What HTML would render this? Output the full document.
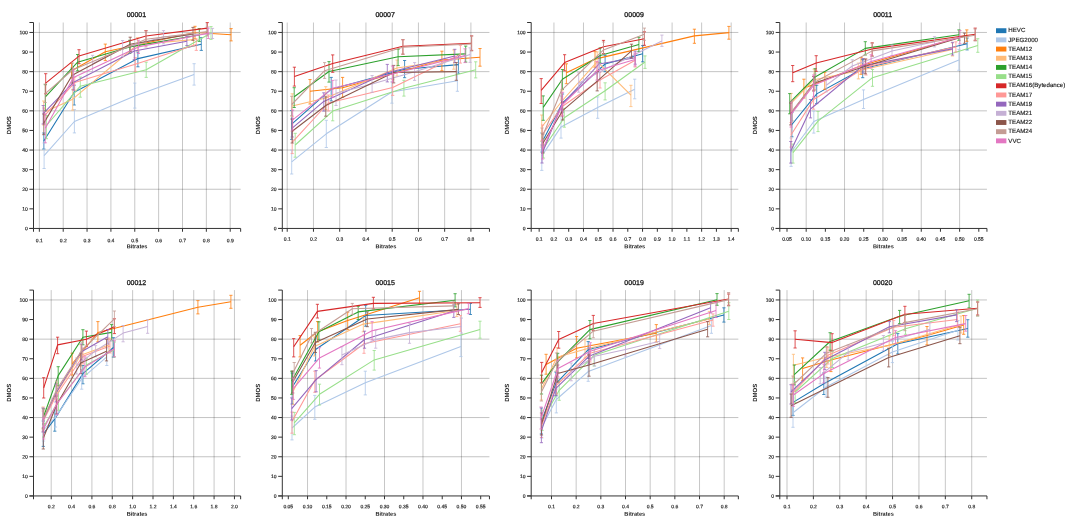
<!DOCTYPE html><html><head><title>DMOS vs Bitrates</title><meta charset="utf-8"><style>html,body{margin:0;padding:0;background:#fff;width:1080px;height:525px;overflow:hidden}</style></head><body><svg width="1080" height="525" viewBox="0 0 1080 525" style="position:absolute;left:0;top:0;will-change:transform;text-rendering:geometricPrecision;font-family:'Liberation Sans',sans-serif">
<rect width="1080" height="525" fill="#fff"/>
<line x1="39.35" x2="39.35" y1="22.50" y2="228.45" stroke="#000" stroke-opacity="0.23" stroke-width="0.95"/><line x1="63.21" x2="63.21" y1="22.50" y2="228.45" stroke="#000" stroke-opacity="0.23" stroke-width="0.95"/><line x1="87.06" x2="87.06" y1="22.50" y2="228.45" stroke="#000" stroke-opacity="0.23" stroke-width="0.95"/><line x1="110.92" x2="110.92" y1="22.50" y2="228.45" stroke="#000" stroke-opacity="0.23" stroke-width="0.95"/><line x1="134.78" x2="134.78" y1="22.50" y2="228.45" stroke="#000" stroke-opacity="0.23" stroke-width="0.95"/><line x1="158.64" x2="158.64" y1="22.50" y2="228.45" stroke="#000" stroke-opacity="0.23" stroke-width="0.95"/><line x1="182.50" x2="182.50" y1="22.50" y2="228.45" stroke="#000" stroke-opacity="0.23" stroke-width="0.95"/><line x1="206.35" x2="206.35" y1="22.50" y2="228.45" stroke="#000" stroke-opacity="0.23" stroke-width="0.95"/><line x1="230.21" x2="230.21" y1="22.50" y2="228.45" stroke="#000" stroke-opacity="0.23" stroke-width="0.95"/><line x1="33.50" x2="240.65" y1="189.25" y2="189.25" stroke="#000" stroke-opacity="0.25" stroke-width="0.95"/><line x1="33.50" x2="240.65" y1="150.05" y2="150.05" stroke="#000" stroke-opacity="0.25" stroke-width="0.95"/><line x1="33.50" x2="240.65" y1="110.85" y2="110.85" stroke="#000" stroke-opacity="0.25" stroke-width="0.95"/><line x1="33.50" x2="240.65" y1="71.65" y2="71.65" stroke="#000" stroke-opacity="0.25" stroke-width="0.95"/><line x1="33.50" x2="240.65" y1="32.45" y2="32.45" stroke="#000" stroke-opacity="0.25" stroke-width="0.95"/>
<path d="M43.80,141.00 L74.20,92.30 L137.90,58.60 L201.30,44.20" fill="none" stroke="#1f77b4" stroke-width="1.08" stroke-linejoin="round"/>
<path d="M43.80,133.00V149.00M42.20,133.00h3.2M42.20,149.00h3.2M74.20,85.20V105.00M72.60,85.20h3.2M72.60,105.00h3.2M137.90,52.00V66.80M136.30,52.00h3.2M136.30,66.80h3.2M201.30,37.60V50.40M199.70,37.60h3.2M199.70,50.40h3.2" fill="none" stroke="#1f77b4" stroke-width="0.8"/>
<path d="M44.10,155.70 L74.40,121.50 L134.80,95.90 L194.10,74.40" fill="none" stroke="#aec7e8" stroke-width="1.08" stroke-linejoin="round"/>
<path d="M44.10,143.00V168.50M42.50,143.00h3.2M42.50,168.50h3.2M74.40,109.60V132.90M72.80,109.60h3.2M72.80,132.90h3.2M134.80,83.10V108.10M133.20,83.10h3.2M133.20,108.10h3.2M194.10,63.70V85.10M192.50,63.70h3.2M192.50,85.10h3.2" fill="none" stroke="#aec7e8" stroke-width="0.8"/>
<path d="M71.50,70.80 L105.30,51.70 L195.00,32.50 L231.10,34.80" fill="none" stroke="#ff7f0e" stroke-width="1.08" stroke-linejoin="round"/>
<path d="M71.50,63.20V78.00M69.90,63.20h3.2M69.90,78.00h3.2M105.30,44.10V60.60M103.70,44.10h3.2M103.70,60.60h3.2M195.00,26.30V38.80M193.40,26.30h3.2M193.40,38.80h3.2M231.10,28.60V40.90M229.50,28.60h3.2M229.50,40.90h3.2" fill="none" stroke="#ff7f0e" stroke-width="0.8"/>
<path d="M43.70,112.40 L72.70,99.20 L137.60,44.50 L193.50,39.60" fill="none" stroke="#ffbb78" stroke-width="1.08" stroke-linejoin="round"/>
<path d="M43.70,101.00V125.00M42.10,101.00h3.2M42.10,125.00h3.2M72.70,89.30V110.10M71.10,89.30h3.2M71.10,110.10h3.2M137.60,37.70V51.00M136.00,37.70h3.2M136.00,51.00h3.2M193.50,33.00V46.00M191.90,33.00h3.2M191.90,46.00h3.2" fill="none" stroke="#ffbb78" stroke-width="0.8"/>
<path d="M45.40,96.90 L77.60,62.20 L129.70,46.90 L199.30,35.00" fill="none" stroke="#2ca02c" stroke-width="1.08" stroke-linejoin="round"/>
<path d="M45.40,84.70V110.60M43.80,84.70h3.2M43.80,110.60h3.2M77.60,54.50V70.80M76.00,54.50h3.2M76.00,70.80h3.2M129.70,40.30V53.50M128.10,40.30h3.2M128.10,53.50h3.2M199.30,28.60V41.40M197.70,28.60h3.2M197.70,41.40h3.2" fill="none" stroke="#2ca02c" stroke-width="0.8"/>
<path d="M46.40,125.50 L80.30,86.20 L146.20,69.80 L211.00,33.00" fill="none" stroke="#98df8a" stroke-width="1.08" stroke-linejoin="round"/>
<path d="M46.40,115.50V138.70M44.80,115.50h3.2M44.80,138.70h3.2M80.30,77.00V97.20M78.70,77.00h3.2M78.70,97.20h3.2M146.20,62.20V77.40M144.60,62.20h3.2M144.60,77.40h3.2M211.00,26.60V39.40M209.40,26.60h3.2M209.40,39.40h3.2" fill="none" stroke="#98df8a" stroke-width="0.8"/>
<path d="M45.70,83.10 L79.00,56.10 L146.00,36.00 L207.30,28.10" fill="none" stroke="#d62728" stroke-width="1.08" stroke-linejoin="round"/>
<path d="M45.70,73.70V93.80M44.10,73.70h3.2M44.10,93.80h3.2M79.00,49.70V63.70M77.40,49.70h3.2M77.40,63.70h3.2M146.00,30.60V41.80M144.40,30.60h3.2M144.40,41.80h3.2M207.30,22.60V33.60M205.70,22.60h3.2M205.70,33.60h3.2" fill="none" stroke="#d62728" stroke-width="0.8"/>
<path d="M44.10,116.10 L74.70,82.60 L135.30,64.20 L196.30,44.60" fill="none" stroke="#ff9896" stroke-width="1.08" stroke-linejoin="round"/>
<path d="M44.10,108.00V124.00M42.50,108.00h3.2M42.50,124.00h3.2M74.70,77.00V90.30M73.10,77.00h3.2M73.10,90.30h3.2M135.30,57.60V71.30M133.70,57.60h3.2M133.70,71.30h3.2M196.30,39.10V50.40M194.70,39.10h3.2M194.70,50.40h3.2" fill="none" stroke="#ff9896" stroke-width="0.8"/>
<path d="M43.20,113.70 L73.20,82.60 L134.30,51.00 L186.90,41.30" fill="none" stroke="#9467bd" stroke-width="1.08" stroke-linejoin="round"/>
<path d="M43.20,105.50V124.00M41.60,105.50h3.2M41.60,124.00h3.2M73.20,75.00V90.00M71.60,75.00h3.2M71.60,90.00h3.2M134.30,43.80V59.60M132.70,43.80h3.2M132.70,59.60h3.2M186.90,36.70V45.50M185.30,36.70h3.2M185.30,45.50h3.2" fill="none" stroke="#9467bd" stroke-width="0.8"/>
<path d="M92.60,63.70 L122.60,48.40 L163.50,36.70 L212.50,33.50" fill="none" stroke="#c5b0d5" stroke-width="1.08" stroke-linejoin="round"/>
<path d="M92.60,55.30V71.80M91.00,55.30h3.2M91.00,71.80h3.2M122.60,40.50V56.60M121.00,40.50h3.2M121.00,56.60h3.2M163.50,30.60V43.80M161.90,30.60h3.2M161.90,43.80h3.2M212.50,28.40V38.50M210.90,28.40h3.2M210.90,38.50h3.2" fill="none" stroke="#c5b0d5" stroke-width="0.8"/>
<path d="M43.80,123.10 L72.20,75.20 L130.20,44.30 L193.00,33.90" fill="none" stroke="#8c564b" stroke-width="1.08" stroke-linejoin="round"/>
<path d="M43.80,114.00V134.70M42.20,114.00h3.2M42.20,134.70h3.2M72.20,68.00V83.00M70.60,68.00h3.2M70.60,83.00h3.2M130.20,37.20V51.50M128.60,37.20h3.2M128.60,51.50h3.2M193.00,27.40V40.30M191.40,27.40h3.2M191.40,40.30h3.2" fill="none" stroke="#8c564b" stroke-width="0.8"/>
<path d="M45.20,93.60 L72.50,70.00 L146.00,39.30 L207.50,31.50" fill="none" stroke="#c49c94" stroke-width="1.08" stroke-linejoin="round"/>
<path d="M45.20,84.00V102.50M43.60,84.00h3.2M43.60,102.50h3.2M72.50,63.00V77.00M70.90,63.00h3.2M70.90,77.00h3.2M146.00,31.00V46.90M144.40,31.00h3.2M144.40,46.90h3.2M207.50,27.00V36.00M205.90,27.00h3.2M205.90,36.00h3.2" fill="none" stroke="#c49c94" stroke-width="0.8"/>
<path d="M45.30,128.30 L73.50,77.50 L138.40,46.90 L208.30,33.30" fill="none" stroke="#e377c2" stroke-width="1.08" stroke-linejoin="round"/>
<path d="M45.30,114.00V142.80M43.70,114.00h3.2M43.70,142.80h3.2M73.50,70.00V85.00M71.90,70.00h3.2M71.90,85.00h3.2M138.40,40.30V53.50M136.80,40.30h3.2M136.80,53.50h3.2M208.30,28.10V38.50M206.70,28.10h3.2M206.70,38.50h3.2" fill="none" stroke="#e377c2" stroke-width="0.8"/>
<path d="M29.40,22.50H33.50V228.45H29.40" fill="none" stroke="#333" stroke-width="1.0"/>
<path d="M33.50,231.75V228.45H240.65V231.75" fill="none" stroke="#333" stroke-width="1.0"/>
<path d="M29.40,228.45H33.50M29.40,208.85H33.50M29.40,189.25H33.50M29.40,169.65H33.50M29.40,150.05H33.50M29.40,130.45H33.50M29.40,110.85H33.50M29.40,91.25H33.50M29.40,71.65H33.50M29.40,52.05H33.50M29.40,32.45H33.50M39.35,228.45v3.3M63.21,228.45v3.3M87.06,228.45v3.3M110.92,228.45v3.3M134.78,228.45v3.3M158.64,228.45v3.3M182.50,228.45v3.3M206.35,228.45v3.3M230.21,228.45v3.3" fill="none" stroke="#333" stroke-width="1.0"/>
<g font-size="5" fill="#222" stroke="#222" stroke-width="0.16"><text x="27.80" y="230.25" text-anchor="end" transform="rotate(0.3 27.80 230.25)">0</text><text x="27.80" y="210.65" text-anchor="end" transform="rotate(0.3 27.80 210.65)">10</text><text x="27.80" y="191.05" text-anchor="end" transform="rotate(0.3 27.80 191.05)">20</text><text x="27.80" y="171.45" text-anchor="end" transform="rotate(0.3 27.80 171.45)">30</text><text x="27.80" y="151.85" text-anchor="end" transform="rotate(0.3 27.80 151.85)">40</text><text x="27.80" y="132.25" text-anchor="end" transform="rotate(0.3 27.80 132.25)">50</text><text x="27.80" y="112.65" text-anchor="end" transform="rotate(0.3 27.80 112.65)">60</text><text x="27.80" y="93.05" text-anchor="end" transform="rotate(0.3 27.80 93.05)">70</text><text x="27.80" y="73.45" text-anchor="end" transform="rotate(0.3 27.80 73.45)">80</text><text x="27.80" y="53.85" text-anchor="end" transform="rotate(0.3 27.80 53.85)">90</text><text x="27.80" y="34.25" text-anchor="end" transform="rotate(0.3 27.80 34.25)">100</text><text x="39.35" y="242.35" text-anchor="middle" transform="rotate(0.3 39.35 242.35)">0.1</text><text x="63.21" y="242.35" text-anchor="middle" transform="rotate(0.3 63.21 242.35)">0.2</text><text x="87.06" y="242.35" text-anchor="middle" transform="rotate(0.3 87.06 242.35)">0.3</text><text x="110.92" y="242.35" text-anchor="middle" transform="rotate(0.3 110.92 242.35)">0.4</text><text x="134.78" y="242.35" text-anchor="middle" transform="rotate(0.3 134.78 242.35)">0.5</text><text x="158.64" y="242.35" text-anchor="middle" transform="rotate(0.3 158.64 242.35)">0.6</text><text x="182.50" y="242.35" text-anchor="middle" transform="rotate(0.3 182.50 242.35)">0.7</text><text x="206.35" y="242.35" text-anchor="middle" transform="rotate(0.3 206.35 242.35)">0.8</text><text x="230.21" y="242.35" text-anchor="middle" transform="rotate(0.3 230.21 242.35)">0.9</text></g>
<text x="137.07" y="248.25" transform="rotate(0.3 137.07 248.25)" text-anchor="middle" font-size="5.6" font-weight="bold" fill="#222">Bitrates</text>
<text transform="translate(11.00,125.17) rotate(-90)" text-anchor="middle" font-size="6" font-weight="bold" fill="#222">DMOS</text>
<text x="136.38" y="17.20" text-anchor="middle" font-size="7" fill="#222" stroke="#222" stroke-width="0.3">00001</text>
<line x1="287.21" x2="287.21" y1="22.50" y2="228.45" stroke="#000" stroke-opacity="0.23" stroke-width="0.95"/><line x1="313.46" x2="313.46" y1="22.50" y2="228.45" stroke="#000" stroke-opacity="0.23" stroke-width="0.95"/><line x1="339.70" x2="339.70" y1="22.50" y2="228.45" stroke="#000" stroke-opacity="0.23" stroke-width="0.95"/><line x1="365.94" x2="365.94" y1="22.50" y2="228.45" stroke="#000" stroke-opacity="0.23" stroke-width="0.95"/><line x1="392.19" x2="392.19" y1="22.50" y2="228.45" stroke="#000" stroke-opacity="0.23" stroke-width="0.95"/><line x1="418.43" x2="418.43" y1="22.50" y2="228.45" stroke="#000" stroke-opacity="0.23" stroke-width="0.95"/><line x1="444.67" x2="444.67" y1="22.50" y2="228.45" stroke="#000" stroke-opacity="0.23" stroke-width="0.95"/><line x1="470.91" x2="470.91" y1="22.50" y2="228.45" stroke="#000" stroke-opacity="0.23" stroke-width="0.95"/><line x1="282.30" x2="489.45" y1="189.25" y2="189.25" stroke="#000" stroke-opacity="0.25" stroke-width="0.95"/><line x1="282.30" x2="489.45" y1="150.05" y2="150.05" stroke="#000" stroke-opacity="0.25" stroke-width="0.95"/><line x1="282.30" x2="489.45" y1="110.85" y2="110.85" stroke="#000" stroke-opacity="0.25" stroke-width="0.95"/><line x1="282.30" x2="489.45" y1="71.65" y2="71.65" stroke="#000" stroke-opacity="0.25" stroke-width="0.95"/><line x1="282.30" x2="489.45" y1="32.45" y2="32.45" stroke="#000" stroke-opacity="0.25" stroke-width="0.95"/>
<path d="M291.70,124.10 L331.20,89.20 L404.60,69.20 L458.40,64.60" fill="none" stroke="#1f77b4" stroke-width="1.08" stroke-linejoin="round"/>
<path d="M291.70,110.60V139.40M290.10,110.60h3.2M290.10,139.40h3.2M331.20,77.40V100.90M329.60,77.40h3.2M329.60,100.90h3.2M404.60,60.50V77.70M403.00,60.50h3.2M403.00,77.70h3.2M458.40,55.50V73.30M456.80,55.50h3.2M456.80,73.30h3.2" fill="none" stroke="#1f77b4" stroke-width="0.8"/>
<path d="M291.70,161.80 L326.30,133.80 L391.90,92.00 L457.40,80.80" fill="none" stroke="#aec7e8" stroke-width="1.08" stroke-linejoin="round"/>
<path d="M291.70,150.00V174.00M290.10,150.00h3.2M290.10,174.00h3.2M326.30,120.30V147.50M324.70,120.30h3.2M324.70,147.50h3.2M391.90,81.90V103.20M390.30,81.90h3.2M390.30,103.20h3.2M457.40,71.20V91.30M455.80,71.20h3.2M455.80,91.30h3.2" fill="none" stroke="#aec7e8" stroke-width="0.8"/>
<path d="M310.00,91.20 L342.60,87.70 L441.90,60.00 L480.00,57.30" fill="none" stroke="#ff7f0e" stroke-width="1.08" stroke-linejoin="round"/>
<path d="M310.00,79.50V104.00M308.40,79.50h3.2M308.40,104.00h3.2M342.60,77.40V97.30M341.00,77.40h3.2M341.00,97.30h3.2M441.90,51.20V70.70M440.30,51.20h3.2M440.30,70.70h3.2M480.00,48.50V66.20M478.40,48.50h3.2M478.40,66.20h3.2" fill="none" stroke="#ff7f0e" stroke-width="0.8"/>
<path d="M292.20,106.00 L325.80,97.90 L397.00,68.00 L453.80,59.50" fill="none" stroke="#ffbb78" stroke-width="1.08" stroke-linejoin="round"/>
<path d="M292.20,93.80V116.70M290.60,93.80h3.2M290.60,116.70h3.2M325.80,86.70V109.60M324.20,86.70h3.2M324.20,109.60h3.2M397.00,60.00V76.00M395.40,60.00h3.2M395.40,76.00h3.2M453.80,49.90V69.20M452.20,49.90h3.2M452.20,69.20h3.2" fill="none" stroke="#ffbb78" stroke-width="0.8"/>
<path d="M294.20,96.80 L329.00,71.50 L398.10,56.70 L465.70,53.90" fill="none" stroke="#2ca02c" stroke-width="1.08" stroke-linejoin="round"/>
<path d="M294.20,87.70V107.50M292.60,87.70h3.2M292.60,107.50h3.2M329.00,61.60V82.10M327.40,61.60h3.2M327.40,82.10h3.2M398.10,49.30V65.60M396.50,49.30h3.2M396.50,65.60h3.2M465.70,46.10V62.10M464.10,46.10h3.2M464.10,62.10h3.2" fill="none" stroke="#2ca02c" stroke-width="0.8"/>
<path d="M295.20,145.00 L332.70,111.10 L403.90,88.30 L475.70,69.70" fill="none" stroke="#98df8a" stroke-width="1.08" stroke-linejoin="round"/>
<path d="M295.20,133.30V157.20M293.60,133.30h3.2M293.60,157.20h3.2M332.70,102.40V120.80M331.10,102.40h3.2M331.10,120.80h3.2M403.90,80.30V96.10M402.30,80.30h3.2M402.30,96.10h3.2M475.70,61.80V77.90M474.10,61.80h3.2M474.10,77.90h3.2" fill="none" stroke="#98df8a" stroke-width="0.8"/>
<path d="M294.40,76.60 L332.70,63.60 L402.90,46.30 L471.60,43.20" fill="none" stroke="#d62728" stroke-width="1.08" stroke-linejoin="round"/>
<path d="M294.40,67.20V86.10M292.80,67.20h3.2M292.80,86.10h3.2M332.70,54.90V72.30M331.10,54.90h3.2M331.10,72.30h3.2M402.90,39.70V54.20M401.30,39.70h3.2M401.30,54.20h3.2M471.60,35.90V50.40M470.00,35.90h3.2M470.00,50.40h3.2" fill="none" stroke="#d62728" stroke-width="0.8"/>
<path d="M292.20,142.40 L328.30,103.00 L392.70,87.50 L460.40,54.40" fill="none" stroke="#ff9896" stroke-width="1.08" stroke-linejoin="round"/>
<path d="M292.20,131.20V153.60M290.60,131.20h3.2M290.60,153.60h3.2M328.30,95.00V111.00M326.70,95.00h3.2M326.70,111.00h3.2M392.70,79.30V95.40M391.10,79.30h3.2M391.10,95.40h3.2M460.40,45.30V63.10M458.80,45.30h3.2M458.80,63.10h3.2" fill="none" stroke="#ff9896" stroke-width="0.8"/>
<path d="M292.20,128.20 L323.80,101.40 L387.30,72.80 L454.80,56.00" fill="none" stroke="#9467bd" stroke-width="1.08" stroke-linejoin="round"/>
<path d="M292.20,119.00V137.00M290.60,119.00h3.2M290.60,137.00h3.2M323.80,92.80V111.10M322.20,92.80h3.2M322.20,111.10h3.2M387.30,64.40V81.90M385.70,64.40h3.2M385.70,81.90h3.2M454.80,49.30V62.60M453.20,49.30h3.2M453.20,62.60h3.2" fill="none" stroke="#9467bd" stroke-width="0.8"/>
<path d="M336.00,93.30 L372.10,84.00 L414.60,71.80 L470.10,54.40" fill="none" stroke="#c5b0d5" stroke-width="1.08" stroke-linejoin="round"/>
<path d="M336.00,80.00V105.50M334.40,80.00h3.2M334.40,105.50h3.2M372.10,75.50V92.30M370.50,75.50h3.2M370.50,92.30h3.2M414.60,62.60V80.40M413.00,62.60h3.2M413.00,80.40h3.2M470.10,47.80V62.40M468.50,47.80h3.2M468.50,62.40h3.2" fill="none" stroke="#c5b0d5" stroke-width="0.8"/>
<path d="M292.20,131.20 L325.80,105.50 L393.70,72.50 L456.30,71.60" fill="none" stroke="#8c564b" stroke-width="1.08" stroke-linejoin="round"/>
<path d="M292.20,119.00V143.00M290.60,119.00h3.2M290.60,143.00h3.2M325.80,96.80V116.20M324.20,96.80h3.2M324.20,116.20h3.2M393.70,65.40V82.90M392.10,65.40h3.2M392.10,82.90h3.2M456.30,62.60V80.30M454.70,62.60h3.2M454.70,80.30h3.2" fill="none" stroke="#8c564b" stroke-width="0.8"/>
<path d="M291.70,104.50 L324.60,70.70 L402.90,47.30 L471.60,44.00" fill="none" stroke="#c49c94" stroke-width="1.08" stroke-linejoin="round"/>
<path d="M291.70,96.30V115.70M290.10,96.30h3.2M290.10,115.70h3.2M324.60,62.60V78.40M323.00,62.60h3.2M323.00,78.40h3.2M402.90,39.70V54.20M401.30,39.70h3.2M401.30,54.20h3.2M471.60,36.00V51.00M470.00,36.00h3.2M470.00,51.00h3.2" fill="none" stroke="#c49c94" stroke-width="0.8"/>
<path d="M292.70,119.80 L332.70,88.20 L392.50,74.00 L465.00,55.50" fill="none" stroke="#e377c2" stroke-width="1.08" stroke-linejoin="round"/>
<path d="M292.70,110.00V130.00M291.10,110.00h3.2M291.10,130.00h3.2M332.70,80.40V97.30M331.10,80.40h3.2M331.10,97.30h3.2M392.50,66.00V82.00M390.90,66.00h3.2M390.90,82.00h3.2M465.00,48.80V62.60M463.40,48.80h3.2M463.40,62.60h3.2" fill="none" stroke="#e377c2" stroke-width="0.8"/>
<path d="M278.20,22.50H282.30V228.45H278.20" fill="none" stroke="#333" stroke-width="1.0"/>
<path d="M282.30,231.75V228.45H489.45V231.75" fill="none" stroke="#333" stroke-width="1.0"/>
<path d="M278.20,228.45H282.30M278.20,208.85H282.30M278.20,189.25H282.30M278.20,169.65H282.30M278.20,150.05H282.30M278.20,130.45H282.30M278.20,110.85H282.30M278.20,91.25H282.30M278.20,71.65H282.30M278.20,52.05H282.30M278.20,32.45H282.30M287.21,228.45v3.3M313.46,228.45v3.3M339.70,228.45v3.3M365.94,228.45v3.3M392.19,228.45v3.3M418.43,228.45v3.3M444.67,228.45v3.3M470.91,228.45v3.3" fill="none" stroke="#333" stroke-width="1.0"/>
<g font-size="5" fill="#222" stroke="#222" stroke-width="0.16"><text x="276.60" y="230.25" text-anchor="end" transform="rotate(0.3 276.60 230.25)">0</text><text x="276.60" y="210.65" text-anchor="end" transform="rotate(0.3 276.60 210.65)">10</text><text x="276.60" y="191.05" text-anchor="end" transform="rotate(0.3 276.60 191.05)">20</text><text x="276.60" y="171.45" text-anchor="end" transform="rotate(0.3 276.60 171.45)">30</text><text x="276.60" y="151.85" text-anchor="end" transform="rotate(0.3 276.60 151.85)">40</text><text x="276.60" y="132.25" text-anchor="end" transform="rotate(0.3 276.60 132.25)">50</text><text x="276.60" y="112.65" text-anchor="end" transform="rotate(0.3 276.60 112.65)">60</text><text x="276.60" y="93.05" text-anchor="end" transform="rotate(0.3 276.60 93.05)">70</text><text x="276.60" y="73.45" text-anchor="end" transform="rotate(0.3 276.60 73.45)">80</text><text x="276.60" y="53.85" text-anchor="end" transform="rotate(0.3 276.60 53.85)">90</text><text x="276.60" y="34.25" text-anchor="end" transform="rotate(0.3 276.60 34.25)">100</text><text x="287.21" y="240.75" text-anchor="middle" transform="rotate(0.3 287.21 240.75)">0.1</text><text x="313.46" y="240.75" text-anchor="middle" transform="rotate(0.3 313.46 240.75)">0.2</text><text x="339.70" y="240.75" text-anchor="middle" transform="rotate(0.3 339.70 240.75)">0.3</text><text x="365.94" y="240.75" text-anchor="middle" transform="rotate(0.3 365.94 240.75)">0.4</text><text x="392.19" y="240.75" text-anchor="middle" transform="rotate(0.3 392.19 240.75)">0.5</text><text x="418.43" y="240.75" text-anchor="middle" transform="rotate(0.3 418.43 240.75)">0.6</text><text x="444.67" y="240.75" text-anchor="middle" transform="rotate(0.3 444.67 240.75)">0.7</text><text x="470.91" y="240.75" text-anchor="middle" transform="rotate(0.3 470.91 240.75)">0.8</text></g>
<text x="385.88" y="248.25" transform="rotate(0.3 385.88 248.25)" text-anchor="middle" font-size="5.6" font-weight="bold" fill="#222">Bitrates</text>
<text transform="translate(259.80,125.17) rotate(-90)" text-anchor="middle" font-size="6" font-weight="bold" fill="#222">DMOS</text>
<text x="385.18" y="17.20" text-anchor="middle" font-size="7" fill="#222" stroke="#222" stroke-width="0.3">00007</text>
<line x1="553.94" x2="553.94" y1="22.50" y2="228.45" stroke="#000" stroke-opacity="0.23" stroke-width="0.95"/><line x1="583.48" x2="583.48" y1="22.50" y2="228.45" stroke="#000" stroke-opacity="0.23" stroke-width="0.95"/><line x1="613.02" x2="613.02" y1="22.50" y2="228.45" stroke="#000" stroke-opacity="0.23" stroke-width="0.95"/><line x1="642.56" x2="642.56" y1="22.50" y2="228.45" stroke="#000" stroke-opacity="0.23" stroke-width="0.95"/><line x1="672.10" x2="672.10" y1="22.50" y2="228.45" stroke="#000" stroke-opacity="0.23" stroke-width="0.95"/><line x1="701.64" x2="701.64" y1="22.50" y2="228.45" stroke="#000" stroke-opacity="0.23" stroke-width="0.95"/><line x1="731.18" x2="731.18" y1="22.50" y2="228.45" stroke="#000" stroke-opacity="0.23" stroke-width="0.95"/><line x1="531.20" x2="738.35" y1="189.25" y2="189.25" stroke="#000" stroke-opacity="0.25" stroke-width="0.95"/><line x1="531.20" x2="738.35" y1="150.05" y2="150.05" stroke="#000" stroke-opacity="0.25" stroke-width="0.95"/><line x1="531.20" x2="738.35" y1="110.85" y2="110.85" stroke="#000" stroke-opacity="0.25" stroke-width="0.95"/><line x1="531.20" x2="738.35" y1="71.65" y2="71.65" stroke="#000" stroke-opacity="0.25" stroke-width="0.95"/><line x1="531.20" x2="738.35" y1="32.45" y2="32.45" stroke="#000" stroke-opacity="0.25" stroke-width="0.95"/>
<path d="M542.00,142.20 L562.50,103.00 L605.10,64.00 L642.70,53.70" fill="none" stroke="#1f77b4" stroke-width="1.08" stroke-linejoin="round"/>
<path d="M542.00,133.00V152.00M540.40,133.00h3.2M540.40,152.00h3.2M562.50,94.00V112.00M560.90,94.00h3.2M560.90,112.00h3.2M605.10,55.30V71.70M603.50,55.30h3.2M603.50,71.70h3.2M642.70,45.60V61.80M641.10,45.60h3.2M641.10,61.80h3.2" fill="none" stroke="#1f77b4" stroke-width="0.8"/>
<path d="M541.80,155.90 L561.00,126.90 L597.70,107.60 L634.70,89.30" fill="none" stroke="#aec7e8" stroke-width="1.08" stroke-linejoin="round"/>
<path d="M541.80,141.40V170.40M540.20,141.40h3.2M540.20,170.40h3.2M561.00,116.00V138.10M559.40,116.00h3.2M559.40,138.10h3.2M597.70,96.90V118.30M596.10,96.90h3.2M596.10,118.30h3.2M634.70,79.20V98.80M633.10,79.20h3.2M633.10,98.80h3.2" fill="none" stroke="#aec7e8" stroke-width="0.8"/>
<path d="M566.40,72.80 L595.00,59.10 L694.40,35.90 L728.90,32.60" fill="none" stroke="#ff7f0e" stroke-width="1.08" stroke-linejoin="round"/>
<path d="M566.40,63.80V83.70M564.80,63.80h3.2M564.80,83.70h3.2M595.00,51.60V67.20M593.40,51.60h3.2M593.40,67.20h3.2M694.40,29.20V43.30M692.80,29.20h3.2M692.80,43.30h3.2M728.90,26.40V39.20M727.30,26.40h3.2M727.30,39.20h3.2" fill="none" stroke="#ff7f0e" stroke-width="0.8"/>
<path d="M541.70,127.00 L562.00,101.00 L597.20,61.60 L630.90,95.20" fill="none" stroke="#ffbb78" stroke-width="1.08" stroke-linejoin="round"/>
<path d="M541.70,115.00V141.00M540.10,115.00h3.2M540.10,141.00h3.2M562.00,90.00V112.00M560.40,90.00h3.2M560.40,112.00h3.2M597.20,51.90V71.00M595.60,51.90h3.2M595.60,71.00h3.2M630.90,85.30V106.60M629.30,85.30h3.2M629.30,106.60h3.2" fill="none" stroke="#ffbb78" stroke-width="0.8"/>
<path d="M543.20,107.40 L562.40,79.30 L600.20,55.50 L638.90,44.50" fill="none" stroke="#2ca02c" stroke-width="1.08" stroke-linejoin="round"/>
<path d="M543.20,95.90V120.30M541.60,95.90h3.2M541.60,120.30h3.2M562.40,69.50V89.30M560.80,69.50h3.2M560.80,89.30h3.2M600.20,47.90V63.10M598.60,47.90h3.2M598.60,63.10h3.2M638.90,37.30V51.40M637.30,37.30h3.2M637.30,51.40h3.2" fill="none" stroke="#2ca02c" stroke-width="0.8"/>
<path d="M543.50,148.20 L564.30,117.70 L605.10,90.80 L645.00,62.00" fill="none" stroke="#98df8a" stroke-width="1.08" stroke-linejoin="round"/>
<path d="M543.50,139.00V158.00M541.90,139.00h3.2M541.90,158.00h3.2M564.30,108.30V127.20M562.70,108.30h3.2M562.70,127.20h3.2M605.10,82.80V99.90M603.50,82.80h3.2M603.50,99.90h3.2M645.00,55.90V68.40M643.40,55.90h3.2M643.40,68.40h3.2" fill="none" stroke="#98df8a" stroke-width="0.8"/>
<path d="M541.20,90.30 L564.60,62.60 L603.50,46.80 L644.40,38.70" fill="none" stroke="#d62728" stroke-width="1.08" stroke-linejoin="round"/>
<path d="M541.20,78.60V103.50M539.60,78.60h3.2M539.60,103.50h3.2M564.60,54.70V70.80M563.00,54.70h3.2M563.00,70.80h3.2M603.50,40.40V53.50M601.90,40.40h3.2M601.90,53.50h3.2M644.40,31.80V45.30M642.80,31.80h3.2M642.80,45.30h3.2" fill="none" stroke="#d62728" stroke-width="0.8"/>
<path d="M542.60,134.40 L561.50,107.00 L600.00,80.00 L635.20,60.30" fill="none" stroke="#ff9896" stroke-width="1.08" stroke-linejoin="round"/>
<path d="M542.60,125.00V144.00M541.00,125.00h3.2M541.00,144.00h3.2M561.50,98.00V116.00M559.90,98.00h3.2M559.90,116.00h3.2M600.00,72.00V88.00M598.40,72.00h3.2M598.40,88.00h3.2M635.20,54.20V67.00M633.60,54.20h3.2M633.60,67.00h3.2" fill="none" stroke="#ff9896" stroke-width="0.8"/>
<path d="M542.00,154.00 L561.50,105.00 L599.00,64.00 L635.20,57.70" fill="none" stroke="#9467bd" stroke-width="1.08" stroke-linejoin="round"/>
<path d="M542.00,145.00V163.00M540.40,145.00h3.2M540.40,163.00h3.2M561.50,96.00V113.00M559.90,96.00h3.2M559.90,113.00h3.2M599.00,57.00V72.00M597.40,57.00h3.2M597.40,72.00h3.2M635.20,51.20V64.20M633.60,51.20h3.2M633.60,64.20h3.2" fill="none" stroke="#9467bd" stroke-width="0.8"/>
<path d="M578.70,83.30 L599.50,72.00 L661.90,40.90" fill="none" stroke="#c5b0d5" stroke-width="1.08" stroke-linejoin="round"/>
<path d="M578.70,72.80V92.20M577.10,72.80h3.2M577.10,92.20h3.2M599.50,64.00V80.10M597.90,64.00h3.2M597.90,80.10h3.2M661.90,35.10V46.40M660.30,35.10h3.2M660.30,46.40h3.2" fill="none" stroke="#c5b0d5" stroke-width="0.8"/>
<path d="M542.90,143.30 L562.60,110.70 L597.20,81.10 L631.50,50.90" fill="none" stroke="#8c564b" stroke-width="1.08" stroke-linejoin="round"/>
<path d="M542.90,134.00V153.00M541.30,134.00h3.2M541.30,153.00h3.2M562.60,102.00V120.00M561.00,102.00h3.2M561.00,120.00h3.2M597.20,71.50V90.90M595.60,71.50h3.2M595.60,90.90h3.2M631.50,44.20V57.80M629.90,44.20h3.2M629.90,57.80h3.2" fill="none" stroke="#8c564b" stroke-width="0.8"/>
<path d="M542.00,137.50 L561.50,90.30 L603.50,49.90 L644.40,34.20" fill="none" stroke="#c49c94" stroke-width="1.08" stroke-linejoin="round"/>
<path d="M542.00,128.00V147.00M540.40,128.00h3.2M540.40,147.00h3.2M561.50,81.00V100.00M559.90,81.00h3.2M559.90,100.00h3.2M603.50,42.00V54.20M601.90,42.00h3.2M601.90,54.20h3.2M644.40,28.10V40.30M642.80,28.10h3.2M642.80,40.30h3.2" fill="none" stroke="#c49c94" stroke-width="0.8"/>
<path d="M542.60,149.40 L562.60,104.50 L597.00,70.80 L635.00,59.40" fill="none" stroke="#e377c2" stroke-width="1.08" stroke-linejoin="round"/>
<path d="M542.60,140.00V159.00M541.00,140.00h3.2M541.00,159.00h3.2M562.60,92.30V116.00M561.00,92.30h3.2M561.00,116.00h3.2M597.00,61.60V80.10M595.40,61.60h3.2M595.40,80.10h3.2M635.00,53.00V66.00M633.40,53.00h3.2M633.40,66.00h3.2" fill="none" stroke="#e377c2" stroke-width="0.8"/>
<path d="M527.10,22.50H531.20V228.45H527.10" fill="none" stroke="#333" stroke-width="1.0"/>
<path d="M531.20,231.75V228.45H738.35V231.75" fill="none" stroke="#333" stroke-width="1.0"/>
<path d="M527.10,228.45H531.20M527.10,208.85H531.20M527.10,189.25H531.20M527.10,169.65H531.20M527.10,150.05H531.20M527.10,130.45H531.20M527.10,110.85H531.20M527.10,91.25H531.20M527.10,71.65H531.20M527.10,52.05H531.20M527.10,32.45H531.20M539.17,228.45v3.3M553.94,228.45v3.3M568.71,228.45v3.3M583.48,228.45v3.3M598.25,228.45v3.3M613.02,228.45v3.3M627.79,228.45v3.3M642.56,228.45v3.3M657.33,228.45v3.3M672.10,228.45v3.3M686.87,228.45v3.3M701.64,228.45v3.3M716.41,228.45v3.3M731.18,228.45v3.3" fill="none" stroke="#333" stroke-width="1.0"/>
<g font-size="5" fill="#222" stroke="#222" stroke-width="0.16"><text x="525.50" y="230.25" text-anchor="end" transform="rotate(0.3 525.50 230.25)">0</text><text x="525.50" y="210.65" text-anchor="end" transform="rotate(0.3 525.50 210.65)">10</text><text x="525.50" y="191.05" text-anchor="end" transform="rotate(0.3 525.50 191.05)">20</text><text x="525.50" y="171.45" text-anchor="end" transform="rotate(0.3 525.50 171.45)">30</text><text x="525.50" y="151.85" text-anchor="end" transform="rotate(0.3 525.50 151.85)">40</text><text x="525.50" y="132.25" text-anchor="end" transform="rotate(0.3 525.50 132.25)">50</text><text x="525.50" y="112.65" text-anchor="end" transform="rotate(0.3 525.50 112.65)">60</text><text x="525.50" y="93.05" text-anchor="end" transform="rotate(0.3 525.50 93.05)">70</text><text x="525.50" y="73.45" text-anchor="end" transform="rotate(0.3 525.50 73.45)">80</text><text x="525.50" y="53.85" text-anchor="end" transform="rotate(0.3 525.50 53.85)">90</text><text x="525.50" y="34.25" text-anchor="end" transform="rotate(0.3 525.50 34.25)">100</text><text x="539.17" y="240.75" text-anchor="middle" transform="rotate(0.3 539.17 240.75)">0.1</text><text x="553.94" y="240.75" text-anchor="middle" transform="rotate(0.3 553.94 240.75)">0.2</text><text x="568.71" y="240.75" text-anchor="middle" transform="rotate(0.3 568.71 240.75)">0.3</text><text x="583.48" y="240.75" text-anchor="middle" transform="rotate(0.3 583.48 240.75)">0.4</text><text x="598.25" y="240.75" text-anchor="middle" transform="rotate(0.3 598.25 240.75)">0.5</text><text x="613.02" y="240.75" text-anchor="middle" transform="rotate(0.3 613.02 240.75)">0.6</text><text x="627.79" y="240.75" text-anchor="middle" transform="rotate(0.3 627.79 240.75)">0.7</text><text x="642.56" y="240.75" text-anchor="middle" transform="rotate(0.3 642.56 240.75)">0.8</text><text x="657.33" y="240.75" text-anchor="middle" transform="rotate(0.3 657.33 240.75)">0.9</text><text x="672.10" y="240.75" text-anchor="middle" transform="rotate(0.3 672.10 240.75)">1.0</text><text x="686.87" y="240.75" text-anchor="middle" transform="rotate(0.3 686.87 240.75)">1.1</text><text x="701.64" y="240.75" text-anchor="middle" transform="rotate(0.3 701.64 240.75)">1.2</text><text x="716.41" y="240.75" text-anchor="middle" transform="rotate(0.3 716.41 240.75)">1.3</text><text x="731.18" y="240.75" text-anchor="middle" transform="rotate(0.3 731.18 240.75)">1.4</text></g>
<text x="634.78" y="248.25" transform="rotate(0.3 634.78 248.25)" text-anchor="middle" font-size="5.6" font-weight="bold" fill="#222">Bitrates</text>
<text transform="translate(508.70,125.17) rotate(-90)" text-anchor="middle" font-size="6" font-weight="bold" fill="#222">DMOS</text>
<text x="634.08" y="17.20" text-anchor="middle" font-size="7" fill="#222" stroke="#222" stroke-width="0.3">00009</text>
<line x1="806.18" x2="806.18" y1="22.50" y2="228.45" stroke="#000" stroke-opacity="0.23" stroke-width="0.95"/><line x1="844.54" x2="844.54" y1="22.50" y2="228.45" stroke="#000" stroke-opacity="0.23" stroke-width="0.95"/><line x1="882.90" x2="882.90" y1="22.50" y2="228.45" stroke="#000" stroke-opacity="0.23" stroke-width="0.95"/><line x1="921.26" x2="921.26" y1="22.50" y2="228.45" stroke="#000" stroke-opacity="0.23" stroke-width="0.95"/><line x1="959.62" x2="959.62" y1="22.50" y2="228.45" stroke="#000" stroke-opacity="0.23" stroke-width="0.95"/><line x1="779.80" x2="986.95" y1="189.25" y2="189.25" stroke="#000" stroke-opacity="0.25" stroke-width="0.95"/><line x1="779.80" x2="986.95" y1="150.05" y2="150.05" stroke="#000" stroke-opacity="0.25" stroke-width="0.95"/><line x1="779.80" x2="986.95" y1="110.85" y2="110.85" stroke="#000" stroke-opacity="0.25" stroke-width="0.95"/><line x1="779.80" x2="986.95" y1="71.65" y2="71.65" stroke="#000" stroke-opacity="0.25" stroke-width="0.95"/><line x1="779.80" x2="986.95" y1="32.45" y2="32.45" stroke="#000" stroke-opacity="0.25" stroke-width="0.95"/>
<path d="M791.90,124.50 L816.70,93.90 L862.70,68.70 L967.10,43.80" fill="none" stroke="#1f77b4" stroke-width="1.08" stroke-linejoin="round"/>
<path d="M791.90,112.60V136.80M790.30,112.60h3.2M790.30,136.80h3.2M816.70,85.30V103.60M815.10,85.30h3.2M815.10,103.60h3.2M862.70,59.60V77.70M861.10,59.60h3.2M861.10,77.70h3.2M967.10,38.00V49.90M965.50,38.00h3.2M965.50,49.90h3.2" fill="none" stroke="#1f77b4" stroke-width="0.8"/>
<path d="M791.10,152.30 L813.80,121.50 L863.50,99.50 L958.90,60.10" fill="none" stroke="#aec7e8" stroke-width="1.08" stroke-linejoin="round"/>
<path d="M791.10,138.00V166.40M789.50,138.00h3.2M789.50,166.40h3.2M813.80,111.10V133.10M812.20,111.10h3.2M812.20,133.10h3.2M863.50,89.90V108.50M861.90,89.90h3.2M861.90,108.50h3.2M958.90,49.40V70.30M957.30,49.40h3.2M957.30,70.30h3.2" fill="none" stroke="#aec7e8" stroke-width="0.8"/>
<path d="M803.90,88.30 L824.80,80.00 L861.00,65.70 L966.80,35.20" fill="none" stroke="#ff7f0e" stroke-width="1.08" stroke-linejoin="round"/>
<path d="M803.90,79.20V98.00M802.30,79.20h3.2M802.30,98.00h3.2M824.80,72.30V89.30M823.20,72.30h3.2M823.20,89.30h3.2M861.00,57.50V74.30M859.40,57.50h3.2M859.40,74.30h3.2M966.80,29.90V41.30M965.20,29.90h3.2M965.20,41.30h3.2" fill="none" stroke="#ff7f0e" stroke-width="0.8"/>
<path d="M791.20,103.10 L814.10,79.70 L858.40,70.80 L952.50,49.50" fill="none" stroke="#ffbb78" stroke-width="1.08" stroke-linejoin="round"/>
<path d="M791.20,93.40V113.00M789.60,93.40h3.2M789.60,113.00h3.2M814.10,69.20V90.00M812.50,69.20h3.2M812.50,90.00h3.2M858.40,63.10V78.90M856.80,63.10h3.2M856.80,78.90h3.2M952.50,43.00V56.00M950.90,43.00h3.2M950.90,56.00h3.2" fill="none" stroke="#ffbb78" stroke-width="0.8"/>
<path d="M789.70,102.60 L815.10,77.00 L865.30,48.40 L958.90,34.70" fill="none" stroke="#2ca02c" stroke-width="1.08" stroke-linejoin="round"/>
<path d="M789.70,93.60V113.80M788.10,93.60h3.2M788.10,113.80h3.2M815.10,68.70V85.30M813.50,68.70h3.2M813.50,85.30h3.2M865.30,41.70V55.00M863.70,41.70h3.2M863.70,55.00h3.2M958.90,29.90V40.30M957.30,29.90h3.2M957.30,40.30h3.2" fill="none" stroke="#2ca02c" stroke-width="0.8"/>
<path d="M793.00,152.70 L818.00,121.20 L872.50,77.70 L977.80,45.40" fill="none" stroke="#98df8a" stroke-width="1.08" stroke-linejoin="round"/>
<path d="M793.00,144.10V163.10M791.40,144.10h3.2M791.40,163.10h3.2M818.00,111.50V131.60M816.40,111.50h3.2M816.40,131.60h3.2M872.50,69.50V86.30M870.90,69.50h3.2M870.90,86.30h3.2M977.80,38.70V52.30M976.20,38.70h3.2M976.20,52.30h3.2" fill="none" stroke="#98df8a" stroke-width="0.8"/>
<path d="M792.70,72.70 L816.20,63.10 L872.20,48.90 L975.20,34.20" fill="none" stroke="#d62728" stroke-width="1.08" stroke-linejoin="round"/>
<path d="M792.70,65.50V81.70M791.10,65.50h3.2M791.10,81.70h3.2M816.20,55.70V71.30M814.60,55.70h3.2M814.60,71.30h3.2M872.20,42.80V56.00M870.60,42.80h3.2M870.60,56.00h3.2M975.20,28.10V40.30M973.60,28.10h3.2M973.60,40.30h3.2" fill="none" stroke="#d62728" stroke-width="0.8"/>
<path d="M791.10,134.80 L813.60,99.50 L866.00,67.00 L955.90,46.90" fill="none" stroke="#ff9896" stroke-width="1.08" stroke-linejoin="round"/>
<path d="M791.10,122.50V147.10M789.50,122.50h3.2M789.50,147.10h3.2M813.60,90.00V109.20M812.00,90.00h3.2M812.00,109.20h3.2M866.00,59.00V75.00M864.40,59.00h3.2M864.40,75.00h3.2M955.90,41.80V52.00M954.30,41.80h3.2M954.30,52.00h3.2" fill="none" stroke="#ff9896" stroke-width="0.8"/>
<path d="M790.80,151.00 L810.50,109.00 L863.00,65.70 L952.50,48.90" fill="none" stroke="#9467bd" stroke-width="1.08" stroke-linejoin="round"/>
<path d="M790.80,141.50V163.10M789.20,141.50h3.2M789.20,163.10h3.2M810.50,99.50V117.90M808.90,99.50h3.2M808.90,117.90h3.2M863.00,58.50V73.00M861.40,58.50h3.2M861.40,73.00h3.2M952.50,42.30V55.00M950.90,42.30h3.2M950.90,55.00h3.2" fill="none" stroke="#9467bd" stroke-width="0.8"/>
<path d="M826.30,85.30 L852.30,66.00 L892.00,51.00 L934.50,41.80" fill="none" stroke="#c5b0d5" stroke-width="1.08" stroke-linejoin="round"/>
<path d="M826.30,78.00V91.90M824.70,78.00h3.2M824.70,91.90h3.2M852.30,59.80V72.00M850.70,59.80h3.2M850.70,72.00h3.2M892.00,44.90V55.50M890.40,44.90h3.2M890.40,55.50h3.2M934.50,36.70V46.90M932.90,36.70h3.2M932.90,46.90h3.2" fill="none" stroke="#c5b0d5" stroke-width="0.8"/>
<path d="M790.70,113.80 L813.60,83.20 L865.30,66.20 L964.50,36.20" fill="none" stroke="#8c564b" stroke-width="1.08" stroke-linejoin="round"/>
<path d="M790.70,103.00V124.90M789.10,103.00h3.2M789.10,124.90h3.2M813.60,76.60V91.00M812.00,76.60h3.2M812.00,91.00h3.2M865.30,59.00V73.80M863.70,59.00h3.2M863.70,73.80h3.2M964.50,33.10V43.30M962.90,33.10h3.2M962.90,43.30h3.2" fill="none" stroke="#8c564b" stroke-width="0.8"/>
<path d="M792.30,110.80 L815.00,82.00 L872.20,50.90 L975.20,35.20" fill="none" stroke="#c49c94" stroke-width="1.08" stroke-linejoin="round"/>
<path d="M792.30,100.00V121.00M790.70,100.00h3.2M790.70,121.00h3.2M815.00,74.00V90.00M813.40,74.00h3.2M813.40,90.00h3.2M872.20,43.30V56.50M870.60,43.30h3.2M870.60,56.50h3.2M975.20,29.00V41.00M973.60,29.00h3.2M973.60,41.00h3.2" fill="none" stroke="#c49c94" stroke-width="0.8"/>
<path d="M791.10,114.10 L813.60,85.30 L871.10,61.60 L959.90,37.20" fill="none" stroke="#e377c2" stroke-width="1.08" stroke-linejoin="round"/>
<path d="M791.10,102.00V127.10M789.50,102.00h3.2M789.50,127.10h3.2M813.60,75.00V97.00M812.00,75.00h3.2M812.00,97.00h3.2M871.10,54.70V68.00M869.50,54.70h3.2M869.50,68.00h3.2M959.90,30.60V43.80M958.30,30.60h3.2M958.30,43.80h3.2" fill="none" stroke="#e377c2" stroke-width="0.8"/>
<path d="M775.70,22.50H779.80V228.45H775.70" fill="none" stroke="#333" stroke-width="1.0"/>
<path d="M779.80,231.75V228.45H986.95V231.75" fill="none" stroke="#333" stroke-width="1.0"/>
<path d="M775.70,228.45H779.80M775.70,208.85H779.80M775.70,189.25H779.80M775.70,169.65H779.80M775.70,150.05H779.80M775.70,130.45H779.80M775.70,110.85H779.80M775.70,91.25H779.80M775.70,71.65H779.80M775.70,52.05H779.80M775.70,32.45H779.80M787.00,228.45v3.3M806.18,228.45v3.3M825.36,228.45v3.3M844.54,228.45v3.3M863.72,228.45v3.3M882.90,228.45v3.3M902.08,228.45v3.3M921.26,228.45v3.3M940.44,228.45v3.3M959.62,228.45v3.3M978.80,228.45v3.3" fill="none" stroke="#333" stroke-width="1.0"/>
<g font-size="5" fill="#222" stroke="#222" stroke-width="0.16"><text x="774.10" y="230.25" text-anchor="end" transform="rotate(0.3 774.10 230.25)">0</text><text x="774.10" y="210.65" text-anchor="end" transform="rotate(0.3 774.10 210.65)">10</text><text x="774.10" y="191.05" text-anchor="end" transform="rotate(0.3 774.10 191.05)">20</text><text x="774.10" y="171.45" text-anchor="end" transform="rotate(0.3 774.10 171.45)">30</text><text x="774.10" y="151.85" text-anchor="end" transform="rotate(0.3 774.10 151.85)">40</text><text x="774.10" y="132.25" text-anchor="end" transform="rotate(0.3 774.10 132.25)">50</text><text x="774.10" y="112.65" text-anchor="end" transform="rotate(0.3 774.10 112.65)">60</text><text x="774.10" y="93.05" text-anchor="end" transform="rotate(0.3 774.10 93.05)">70</text><text x="774.10" y="73.45" text-anchor="end" transform="rotate(0.3 774.10 73.45)">80</text><text x="774.10" y="53.85" text-anchor="end" transform="rotate(0.3 774.10 53.85)">90</text><text x="774.10" y="34.25" text-anchor="end" transform="rotate(0.3 774.10 34.25)">100</text><text x="787.00" y="240.75" text-anchor="middle" transform="rotate(0.3 787.00 240.75)">0.05</text><text x="806.18" y="240.75" text-anchor="middle" transform="rotate(0.3 806.18 240.75)">0.10</text><text x="825.36" y="240.75" text-anchor="middle" transform="rotate(0.3 825.36 240.75)">0.15</text><text x="844.54" y="240.75" text-anchor="middle" transform="rotate(0.3 844.54 240.75)">0.20</text><text x="863.72" y="240.75" text-anchor="middle" transform="rotate(0.3 863.72 240.75)">0.25</text><text x="882.90" y="240.75" text-anchor="middle" transform="rotate(0.3 882.90 240.75)">0.30</text><text x="902.08" y="240.75" text-anchor="middle" transform="rotate(0.3 902.08 240.75)">0.35</text><text x="921.26" y="240.75" text-anchor="middle" transform="rotate(0.3 921.26 240.75)">0.40</text><text x="940.44" y="240.75" text-anchor="middle" transform="rotate(0.3 940.44 240.75)">0.45</text><text x="959.62" y="240.75" text-anchor="middle" transform="rotate(0.3 959.62 240.75)">0.50</text><text x="978.80" y="240.75" text-anchor="middle" transform="rotate(0.3 978.80 240.75)">0.55</text></g>
<text x="883.38" y="248.25" transform="rotate(0.3 883.38 248.25)" text-anchor="middle" font-size="5.6" font-weight="bold" fill="#222">Bitrates</text>
<text transform="translate(757.30,125.17) rotate(-90)" text-anchor="middle" font-size="6" font-weight="bold" fill="#222">DMOS</text>
<text x="882.67" y="17.20" text-anchor="middle" font-size="7" fill="#222" stroke="#222" stroke-width="0.3">00011</text>
<line x1="51.20" x2="51.20" y1="290.10" y2="495.95" stroke="#000" stroke-opacity="0.23" stroke-width="0.95"/><line x1="71.56" x2="71.56" y1="290.10" y2="495.95" stroke="#000" stroke-opacity="0.23" stroke-width="0.95"/><line x1="91.92" x2="91.92" y1="290.10" y2="495.95" stroke="#000" stroke-opacity="0.23" stroke-width="0.95"/><line x1="112.28" x2="112.28" y1="290.10" y2="495.95" stroke="#000" stroke-opacity="0.23" stroke-width="0.95"/><line x1="132.64" x2="132.64" y1="290.10" y2="495.95" stroke="#000" stroke-opacity="0.23" stroke-width="0.95"/><line x1="153.00" x2="153.00" y1="290.10" y2="495.95" stroke="#000" stroke-opacity="0.23" stroke-width="0.95"/><line x1="173.36" x2="173.36" y1="290.10" y2="495.95" stroke="#000" stroke-opacity="0.23" stroke-width="0.95"/><line x1="193.72" x2="193.72" y1="290.10" y2="495.95" stroke="#000" stroke-opacity="0.23" stroke-width="0.95"/><line x1="214.08" x2="214.08" y1="290.10" y2="495.95" stroke="#000" stroke-opacity="0.23" stroke-width="0.95"/><line x1="234.44" x2="234.44" y1="290.10" y2="495.95" stroke="#000" stroke-opacity="0.23" stroke-width="0.95"/><line x1="33.50" x2="240.65" y1="456.75" y2="456.75" stroke="#000" stroke-opacity="0.25" stroke-width="0.95"/><line x1="33.50" x2="240.65" y1="417.55" y2="417.55" stroke="#000" stroke-opacity="0.25" stroke-width="0.95"/><line x1="33.50" x2="240.65" y1="378.35" y2="378.35" stroke="#000" stroke-opacity="0.25" stroke-width="0.95"/><line x1="33.50" x2="240.65" y1="339.15" y2="339.15" stroke="#000" stroke-opacity="0.25" stroke-width="0.95"/><line x1="33.50" x2="240.65" y1="299.95" y2="299.95" stroke="#000" stroke-opacity="0.25" stroke-width="0.95"/>
<path d="M43.30,433.80 L54.80,418.90 L82.90,373.60 L113.40,347.50" fill="none" stroke="#1f77b4" stroke-width="1.08" stroke-linejoin="round"/>
<path d="M43.30,421.00V446.40M41.70,421.00h3.2M41.70,446.40h3.2M54.80,410.00V431.20M53.20,410.00h3.2M53.20,431.20h3.2M82.90,365.50V383.80M81.30,365.50h3.2M81.30,383.80h3.2M113.40,337.70V357.10M111.80,337.70h3.2M111.80,357.10h3.2" fill="none" stroke="#1f77b4" stroke-width="0.8"/>
<path d="M43.50,430.00 L55.50,417.00 L81.70,378.70 L106.80,356.80" fill="none" stroke="#aec7e8" stroke-width="1.08" stroke-linejoin="round"/>
<path d="M43.50,420.00V441.00M41.90,420.00h3.2M41.90,441.00h3.2M55.50,408.00V427.00M53.90,408.00h3.2M53.90,427.00h3.2M81.70,369.50V389.20M80.10,369.50h3.2M80.10,389.20h3.2M106.80,348.00V365.50M105.20,348.00h3.2M105.20,365.50h3.2" fill="none" stroke="#aec7e8" stroke-width="0.8"/>
<path d="M72.20,363.90 L97.90,332.60 L197.90,307.20 L230.90,301.70" fill="none" stroke="#ff7f0e" stroke-width="1.08" stroke-linejoin="round"/>
<path d="M72.20,353.20V375.10M70.60,353.20h3.2M70.60,375.10h3.2M97.90,321.60V341.80M96.30,321.60h3.2M96.30,341.80h3.2M197.90,300.60V313.90M196.30,300.60h3.2M196.30,313.90h3.2M230.90,295.30V308.30M229.30,295.30h3.2M229.30,308.30h3.2" fill="none" stroke="#ff7f0e" stroke-width="0.8"/>
<path d="M43.20,418.00 L57.00,392.00 L80.80,355.30 L108.80,345.10" fill="none" stroke="#ffbb78" stroke-width="1.08" stroke-linejoin="round"/>
<path d="M43.20,407.00V429.00M41.60,407.00h3.2M41.60,429.00h3.2M57.00,383.00V401.00M55.40,383.00h3.2M55.40,401.00h3.2M80.80,344.60V366.00M79.20,344.60h3.2M79.20,366.00h3.2M108.80,338.00V351.70M107.20,338.00h3.2M107.20,351.70h3.2" fill="none" stroke="#ffbb78" stroke-width="0.8"/>
<path d="M43.70,416.20 L58.20,375.60 L82.90,337.20 L111.60,332.40" fill="none" stroke="#2ca02c" stroke-width="1.08" stroke-linejoin="round"/>
<path d="M43.70,408.80V424.00M42.10,408.80h3.2M42.10,424.00h3.2M58.20,366.70V385.80M56.60,366.70h3.2M56.60,385.80h3.2M82.90,329.70V344.80M81.30,329.70h3.2M81.30,344.80h3.2M111.60,324.60V340.70M110.00,324.60h3.2M110.00,340.70h3.2" fill="none" stroke="#2ca02c" stroke-width="0.8"/>
<path d="M43.60,427.00 L58.50,401.00 L86.40,365.00 L114.40,349.70" fill="none" stroke="#98df8a" stroke-width="1.08" stroke-linejoin="round"/>
<path d="M43.60,417.00V437.00M42.00,417.00h3.2M42.00,437.00h3.2M58.50,391.70V410.30M56.90,391.70h3.2M56.90,410.30h3.2M86.40,358.30V374.10M84.80,358.30h3.2M84.80,374.10h3.2M114.40,342.00V357.00M112.80,342.00h3.2M112.80,357.00h3.2" fill="none" stroke="#98df8a" stroke-width="0.8"/>
<path d="M43.70,387.90 L57.60,344.90 L86.40,339.20 L114.40,326.70" fill="none" stroke="#d62728" stroke-width="1.08" stroke-linejoin="round"/>
<path d="M43.70,377.70V398.00M42.10,377.70h3.2M42.10,398.00h3.2M57.60,337.20V353.70M56.00,337.20h3.2M56.00,353.70h3.2M86.40,331.10V346.30M84.80,331.10h3.2M84.80,346.30h3.2M114.40,318.80V333.60M112.80,318.80h3.2M112.80,333.60h3.2" fill="none" stroke="#d62728" stroke-width="0.8"/>
<path d="M43.20,421.00 L56.50,395.00 L82.90,356.30 L110.00,346.00" fill="none" stroke="#ff9896" stroke-width="1.08" stroke-linejoin="round"/>
<path d="M43.20,411.00V431.00M41.60,411.00h3.2M41.60,431.00h3.2M56.50,386.00V404.00M54.90,386.00h3.2M54.90,404.00h3.2M82.90,348.00V364.00M81.30,348.00h3.2M81.30,364.00h3.2M110.00,339.00V353.00M108.40,339.00h3.2M108.40,353.00h3.2" fill="none" stroke="#ff9896" stroke-width="0.8"/>
<path d="M43.00,420.00 L56.00,393.00 L81.40,351.70 L107.80,336.70" fill="none" stroke="#9467bd" stroke-width="1.08" stroke-linejoin="round"/>
<path d="M43.00,408.00V432.00M41.40,408.00h3.2M41.40,432.00h3.2M56.00,384.00V402.00M54.40,384.00h3.2M54.40,402.00h3.2M81.40,344.00V360.00M79.80,344.00h3.2M79.80,360.00h3.2M107.80,329.50V344.00M106.20,329.50h3.2M106.20,344.00h3.2" fill="none" stroke="#9467bd" stroke-width="0.8"/>
<path d="M76.70,366.00 L95.60,350.70 L123.10,333.10 L147.60,326.40" fill="none" stroke="#c5b0d5" stroke-width="1.08" stroke-linejoin="round"/>
<path d="M76.70,358.00V374.00M75.10,358.00h3.2M75.10,374.00h3.2M95.60,345.60V356.80M94.00,345.60h3.2M94.00,356.80h3.2M123.10,325.50V341.80M121.50,325.50h3.2M121.50,341.80h3.2M147.60,319.80V333.30M146.00,319.80h3.2M146.00,333.30h3.2" fill="none" stroke="#c5b0d5" stroke-width="0.8"/>
<path d="M43.30,438.20 L56.50,405.00 L80.80,362.90 L106.50,351.20" fill="none" stroke="#8c564b" stroke-width="1.08" stroke-linejoin="round"/>
<path d="M43.30,428.00V449.00M41.70,428.00h3.2M41.70,449.00h3.2M56.50,396.00V414.00M54.90,396.00h3.2M54.90,414.00h3.2M80.80,353.20V373.60M79.20,353.20h3.2M79.20,373.60h3.2M106.50,339.20V360.90M104.90,339.20h3.2M104.90,360.90h3.2" fill="none" stroke="#8c564b" stroke-width="0.8"/>
<path d="M43.40,419.00 L56.50,390.00 L82.00,350.00 L114.40,318.80" fill="none" stroke="#c49c94" stroke-width="1.08" stroke-linejoin="round"/>
<path d="M43.40,409.00V429.00M41.80,409.00h3.2M41.80,429.00h3.2M56.50,381.00V399.00M54.90,381.00h3.2M54.90,399.00h3.2M82.00,342.00V358.00M80.40,342.00h3.2M80.40,358.00h3.2M114.40,311.00V326.70M112.80,311.00h3.2M112.80,326.70h3.2" fill="none" stroke="#c49c94" stroke-width="0.8"/>
<path d="M43.70,428.60 L57.00,403.60 L84.90,367.00 L114.40,348.70" fill="none" stroke="#e377c2" stroke-width="1.08" stroke-linejoin="round"/>
<path d="M43.70,418.00V439.00M42.10,418.00h3.2M42.10,439.00h3.2M57.00,394.70V414.70M55.40,394.70h3.2M55.40,414.70h3.2M84.90,356.80V376.70M83.30,356.80h3.2M83.30,376.70h3.2M114.40,340.70V356.80M112.80,340.70h3.2M112.80,356.80h3.2" fill="none" stroke="#e377c2" stroke-width="0.8"/>
<path d="M29.40,290.10H33.50V495.95H29.40" fill="none" stroke="#333" stroke-width="1.0"/>
<path d="M33.50,499.25V495.95H240.65V499.25" fill="none" stroke="#333" stroke-width="1.0"/>
<path d="M29.40,495.95H33.50M29.40,476.35H33.50M29.40,456.75H33.50M29.40,437.15H33.50M29.40,417.55H33.50M29.40,397.95H33.50M29.40,378.35H33.50M29.40,358.75H33.50M29.40,339.15H33.50M29.40,319.55H33.50M29.40,299.95H33.50M51.20,495.95v3.3M71.56,495.95v3.3M91.92,495.95v3.3M112.28,495.95v3.3M132.64,495.95v3.3M153.00,495.95v3.3M173.36,495.95v3.3M193.72,495.95v3.3M214.08,495.95v3.3M234.44,495.95v3.3" fill="none" stroke="#333" stroke-width="1.0"/>
<g font-size="5" fill="#222" stroke="#222" stroke-width="0.16"><text x="27.80" y="497.75" text-anchor="end" transform="rotate(0.3 27.80 497.75)">0</text><text x="27.80" y="478.15" text-anchor="end" transform="rotate(0.3 27.80 478.15)">10</text><text x="27.80" y="458.55" text-anchor="end" transform="rotate(0.3 27.80 458.55)">20</text><text x="27.80" y="438.95" text-anchor="end" transform="rotate(0.3 27.80 438.95)">30</text><text x="27.80" y="419.35" text-anchor="end" transform="rotate(0.3 27.80 419.35)">40</text><text x="27.80" y="399.75" text-anchor="end" transform="rotate(0.3 27.80 399.75)">50</text><text x="27.80" y="380.15" text-anchor="end" transform="rotate(0.3 27.80 380.15)">60</text><text x="27.80" y="360.55" text-anchor="end" transform="rotate(0.3 27.80 360.55)">70</text><text x="27.80" y="340.95" text-anchor="end" transform="rotate(0.3 27.80 340.95)">80</text><text x="27.80" y="321.35" text-anchor="end" transform="rotate(0.3 27.80 321.35)">90</text><text x="27.80" y="301.75" text-anchor="end" transform="rotate(0.3 27.80 301.75)">100</text><text x="51.20" y="508.25" text-anchor="middle" transform="rotate(0.3 51.20 508.25)">0.2</text><text x="71.56" y="508.25" text-anchor="middle" transform="rotate(0.3 71.56 508.25)">0.4</text><text x="91.92" y="508.25" text-anchor="middle" transform="rotate(0.3 91.92 508.25)">0.6</text><text x="112.28" y="508.25" text-anchor="middle" transform="rotate(0.3 112.28 508.25)">0.8</text><text x="132.64" y="508.25" text-anchor="middle" transform="rotate(0.3 132.64 508.25)">1.0</text><text x="153.00" y="508.25" text-anchor="middle" transform="rotate(0.3 153.00 508.25)">1.2</text><text x="173.36" y="508.25" text-anchor="middle" transform="rotate(0.3 173.36 508.25)">1.4</text><text x="193.72" y="508.25" text-anchor="middle" transform="rotate(0.3 193.72 508.25)">1.6</text><text x="214.08" y="508.25" text-anchor="middle" transform="rotate(0.3 214.08 508.25)">1.8</text><text x="234.44" y="508.25" text-anchor="middle" transform="rotate(0.3 234.44 508.25)">2.0</text></g>
<text x="137.07" y="515.75" transform="rotate(0.3 137.07 515.75)" text-anchor="middle" font-size="5.6" font-weight="bold" fill="#222">Bitrates</text>
<text transform="translate(11.00,392.72) rotate(-90)" text-anchor="middle" font-size="6" font-weight="bold" fill="#222">DMOS</text>
<text x="136.38" y="284.80" text-anchor="middle" font-size="7" fill="#222" stroke="#222" stroke-width="0.3">00012</text>
<line x1="307.54" x2="307.54" y1="290.10" y2="495.95" stroke="#000" stroke-opacity="0.23" stroke-width="0.95"/><line x1="346.02" x2="346.02" y1="290.10" y2="495.95" stroke="#000" stroke-opacity="0.23" stroke-width="0.95"/><line x1="384.50" x2="384.50" y1="290.10" y2="495.95" stroke="#000" stroke-opacity="0.23" stroke-width="0.95"/><line x1="422.98" x2="422.98" y1="290.10" y2="495.95" stroke="#000" stroke-opacity="0.23" stroke-width="0.95"/><line x1="461.46" x2="461.46" y1="290.10" y2="495.95" stroke="#000" stroke-opacity="0.23" stroke-width="0.95"/><line x1="282.30" x2="489.45" y1="456.75" y2="456.75" stroke="#000" stroke-opacity="0.25" stroke-width="0.95"/><line x1="282.30" x2="489.45" y1="417.55" y2="417.55" stroke="#000" stroke-opacity="0.25" stroke-width="0.95"/><line x1="282.30" x2="489.45" y1="378.35" y2="378.35" stroke="#000" stroke-opacity="0.25" stroke-width="0.95"/><line x1="282.30" x2="489.45" y1="339.15" y2="339.15" stroke="#000" stroke-opacity="0.25" stroke-width="0.95"/><line x1="282.30" x2="489.45" y1="299.95" y2="299.95" stroke="#000" stroke-opacity="0.25" stroke-width="0.95"/>
<path d="M292.20,387.20 L315.60,349.50 L365.70,315.50 L470.40,309.20" fill="none" stroke="#1f77b4" stroke-width="1.08" stroke-linejoin="round"/>
<path d="M292.20,373.00V404.00M290.60,373.00h3.2M290.60,404.00h3.2M315.60,338.00V361.00M314.00,338.00h3.2M314.00,361.00h3.2M365.70,305.30V326.20M364.10,305.30h3.2M364.10,326.20h3.2M470.40,303.50V314.50M468.80,303.50h3.2M468.80,314.50h3.2" fill="none" stroke="#1f77b4" stroke-width="0.8"/>
<path d="M292.00,428.00 L314.80,407.10 L365.30,382.80 L460.90,346.40" fill="none" stroke="#aec7e8" stroke-width="1.08" stroke-linejoin="round"/>
<path d="M292.00,416.00V439.90M290.40,416.00h3.2M290.40,439.90h3.2M314.80,395.40V419.30M313.20,395.40h3.2M313.20,419.30h3.2M365.30,371.20V394.90M363.70,371.20h3.2M363.70,394.90h3.2M460.90,335.20V356.60M459.30,335.20h3.2M459.30,356.60h3.2" fill="none" stroke="#aec7e8" stroke-width="0.8"/>
<path d="M300.10,345.20 L317.60,331.80 L347.70,320.50 L419.50,297.70" fill="none" stroke="#ff7f0e" stroke-width="1.08" stroke-linejoin="round"/>
<path d="M300.10,335.60V356.90M298.50,335.60h3.2M298.50,356.90h3.2M317.60,321.60V342.00M316.00,321.60h3.2M316.00,342.00h3.2M347.70,312.20V329.70M346.10,312.20h3.2M346.10,329.70h3.2M419.50,291.30V303.80M417.90,291.30h3.2M417.90,303.80h3.2" fill="none" stroke="#ff7f0e" stroke-width="0.8"/>
<path d="M293.20,391.30 L314.50,346.50 L363.30,324.10 L456.80,310.50" fill="none" stroke="#ffbb78" stroke-width="1.08" stroke-linejoin="round"/>
<path d="M293.20,378.00V404.50M291.60,378.00h3.2M291.60,404.50h3.2M314.50,337.00V356.00M312.90,337.00h3.2M312.90,356.00h3.2M363.30,318.00V331.80M361.70,318.00h3.2M361.70,331.80h3.2M456.80,304.50V316.60M455.20,304.50h3.2M455.20,316.60h3.2" fill="none" stroke="#ffbb78" stroke-width="0.8"/>
<path d="M291.70,381.00 L318.90,331.80 L358.20,311.90 L455.10,300.30" fill="none" stroke="#2ca02c" stroke-width="1.08" stroke-linejoin="round"/>
<path d="M291.70,371.20V394.30M290.10,371.20h3.2M290.10,394.30h3.2M318.90,321.80V339.90M317.30,321.80h3.2M317.30,339.90h3.2M358.20,306.30V319.50M356.60,306.30h3.2M356.60,319.50h3.2M455.10,293.70V306.90M453.50,293.70h3.2M453.50,306.90h3.2" fill="none" stroke="#2ca02c" stroke-width="0.8"/>
<path d="M294.30,422.80 L319.50,394.30 L374.20,359.90 L480.00,329.50" fill="none" stroke="#98df8a" stroke-width="1.08" stroke-linejoin="round"/>
<path d="M294.30,412.40V434.70M292.70,412.40h3.2M292.70,434.70h3.2M319.50,384.20V405.00M317.90,384.20h3.2M317.90,405.00h3.2M374.20,350.50V370.10M372.60,350.50h3.2M372.60,370.10h3.2M480.00,321.20V338.20M478.40,321.20h3.2M478.40,338.20h3.2" fill="none" stroke="#98df8a" stroke-width="0.8"/>
<path d="M293.70,346.70 L317.40,311.40 L373.40,303.40 L480.00,302.80" fill="none" stroke="#d62728" stroke-width="1.08" stroke-linejoin="round"/>
<path d="M293.70,338.60V356.90M292.10,338.60h3.2M292.10,356.90h3.2M317.40,304.30V318.00M315.80,304.30h3.2M315.80,318.00h3.2M373.40,297.30V308.80M371.80,297.30h3.2M371.80,308.80h3.2M480.00,297.70V307.40M478.40,297.70h3.2M478.40,307.40h3.2" fill="none" stroke="#d62728" stroke-width="0.8"/>
<path d="M292.00,421.50 L314.80,380.20 L364.00,343.70 L460.40,323.70" fill="none" stroke="#ff9896" stroke-width="1.08" stroke-linejoin="round"/>
<path d="M292.00,412.10V433.20M290.40,412.10h3.2M290.40,433.20h3.2M314.80,371.20V392.30M313.20,371.20h3.2M313.20,392.30h3.2M364.00,335.00V353.30M362.40,335.00h3.2M362.40,353.30h3.2M460.40,315.50V331.30M458.80,315.50h3.2M458.80,331.30h3.2" fill="none" stroke="#ff9896" stroke-width="0.8"/>
<path d="M291.70,408.60 L316.10,379.70 L364.50,339.50 L453.80,311.00" fill="none" stroke="#9467bd" stroke-width="1.08" stroke-linejoin="round"/>
<path d="M291.70,397.90V420.00M290.10,397.90h3.2M290.10,420.00h3.2M316.10,370.60V391.80M314.50,370.60h3.2M314.50,391.80h3.2M364.50,331.20V348.20M362.90,331.20h3.2M362.90,348.20h3.2M453.80,304.90V317.40M452.20,304.90h3.2M452.20,317.40h3.2" fill="none" stroke="#9467bd" stroke-width="0.8"/>
<path d="M341.90,354.90 L375.70,339.60 L409.50,332.60 L461.40,326.50" fill="none" stroke="#c5b0d5" stroke-width="1.08" stroke-linejoin="round"/>
<path d="M341.90,346.70V364.70M340.30,346.70h3.2M340.30,364.70h3.2M375.70,330.20V348.20M374.10,330.20h3.2M374.10,348.20h3.2M409.50,323.20V343.30M407.90,323.20h3.2M407.90,343.30h3.2M461.40,318.10V333.10M459.80,318.10h3.2M459.80,333.10h3.2" fill="none" stroke="#c5b0d5" stroke-width="0.8"/>
<path d="M292.70,382.10 L315.40,342.50 L367.30,319.00 L458.40,309.40" fill="none" stroke="#8c564b" stroke-width="1.08" stroke-linejoin="round"/>
<path d="M292.70,371.00V393.00M291.10,371.00h3.2M291.10,393.00h3.2M315.40,332.30V352.50M313.80,332.30h3.2M313.80,352.50h3.2M367.30,311.90V326.70M365.70,311.90h3.2M365.70,326.70h3.2M458.40,303.80V314.50M456.80,303.80h3.2M456.80,314.50h3.2" fill="none" stroke="#8c564b" stroke-width="0.8"/>
<path d="M294.20,370.60 L311.50,335.80 L352.30,308.80 L453.30,305.90" fill="none" stroke="#c49c94" stroke-width="1.08" stroke-linejoin="round"/>
<path d="M294.20,362.50V380.00M292.60,362.50h3.2M292.60,380.00h3.2M311.50,328.50V343.00M309.90,328.50h3.2M309.90,343.00h3.2M352.30,303.40V314.40M350.70,303.40h3.2M350.70,314.40h3.2M453.30,301.00V311.00M451.70,301.00h3.2M451.70,311.00h3.2" fill="none" stroke="#c49c94" stroke-width="0.8"/>
<path d="M293.20,388.70 L319.50,357.90 L372.10,330.70 L468.40,308.60" fill="none" stroke="#e377c2" stroke-width="1.08" stroke-linejoin="round"/>
<path d="M293.20,378.00V399.40M291.60,378.00h3.2M291.60,399.40h3.2M319.50,347.70V368.10M317.90,347.70h3.2M317.90,368.10h3.2M372.10,321.60V339.90M370.50,321.60h3.2M370.50,339.90h3.2M468.40,303.50V313.70M466.80,303.50h3.2M466.80,313.70h3.2" fill="none" stroke="#e377c2" stroke-width="0.8"/>
<path d="M278.20,290.10H282.30V495.95H278.20" fill="none" stroke="#333" stroke-width="1.0"/>
<path d="M282.30,499.25V495.95H489.45V499.25" fill="none" stroke="#333" stroke-width="1.0"/>
<path d="M278.20,495.95H282.30M278.20,476.35H282.30M278.20,456.75H282.30M278.20,437.15H282.30M278.20,417.55H282.30M278.20,397.95H282.30M278.20,378.35H282.30M278.20,358.75H282.30M278.20,339.15H282.30M278.20,319.55H282.30M278.20,299.95H282.30M288.30,495.95v3.3M307.54,495.95v3.3M326.78,495.95v3.3M346.02,495.95v3.3M365.26,495.95v3.3M384.50,495.95v3.3M403.74,495.95v3.3M422.98,495.95v3.3M442.22,495.95v3.3M461.46,495.95v3.3M480.70,495.95v3.3" fill="none" stroke="#333" stroke-width="1.0"/>
<g font-size="5" fill="#222" stroke="#222" stroke-width="0.16"><text x="276.60" y="497.75" text-anchor="end" transform="rotate(0.3 276.60 497.75)">0</text><text x="276.60" y="478.15" text-anchor="end" transform="rotate(0.3 276.60 478.15)">10</text><text x="276.60" y="458.55" text-anchor="end" transform="rotate(0.3 276.60 458.55)">20</text><text x="276.60" y="438.95" text-anchor="end" transform="rotate(0.3 276.60 438.95)">30</text><text x="276.60" y="419.35" text-anchor="end" transform="rotate(0.3 276.60 419.35)">40</text><text x="276.60" y="399.75" text-anchor="end" transform="rotate(0.3 276.60 399.75)">50</text><text x="276.60" y="380.15" text-anchor="end" transform="rotate(0.3 276.60 380.15)">60</text><text x="276.60" y="360.55" text-anchor="end" transform="rotate(0.3 276.60 360.55)">70</text><text x="276.60" y="340.95" text-anchor="end" transform="rotate(0.3 276.60 340.95)">80</text><text x="276.60" y="321.35" text-anchor="end" transform="rotate(0.3 276.60 321.35)">90</text><text x="276.60" y="301.75" text-anchor="end" transform="rotate(0.3 276.60 301.75)">100</text><text x="288.30" y="508.25" text-anchor="middle" transform="rotate(0.3 288.30 508.25)">0.05</text><text x="307.54" y="508.25" text-anchor="middle" transform="rotate(0.3 307.54 508.25)">0.10</text><text x="326.78" y="508.25" text-anchor="middle" transform="rotate(0.3 326.78 508.25)">0.15</text><text x="346.02" y="508.25" text-anchor="middle" transform="rotate(0.3 346.02 508.25)">0.20</text><text x="365.26" y="508.25" text-anchor="middle" transform="rotate(0.3 365.26 508.25)">0.25</text><text x="384.50" y="508.25" text-anchor="middle" transform="rotate(0.3 384.50 508.25)">0.30</text><text x="403.74" y="508.25" text-anchor="middle" transform="rotate(0.3 403.74 508.25)">0.35</text><text x="422.98" y="508.25" text-anchor="middle" transform="rotate(0.3 422.98 508.25)">0.40</text><text x="442.22" y="508.25" text-anchor="middle" transform="rotate(0.3 442.22 508.25)">0.45</text><text x="461.46" y="508.25" text-anchor="middle" transform="rotate(0.3 461.46 508.25)">0.50</text><text x="480.70" y="508.25" text-anchor="middle" transform="rotate(0.3 480.70 508.25)">0.55</text></g>
<text x="385.88" y="515.75" transform="rotate(0.3 385.88 515.75)" text-anchor="middle" font-size="5.6" font-weight="bold" fill="#222">Bitrates</text>
<text transform="translate(259.80,392.72) rotate(-90)" text-anchor="middle" font-size="6" font-weight="bold" fill="#222">DMOS</text>
<text x="385.18" y="284.80" text-anchor="middle" font-size="7" fill="#222" stroke="#222" stroke-width="0.3">00015</text>
<line x1="551.50" x2="551.50" y1="290.10" y2="495.95" stroke="#000" stroke-opacity="0.23" stroke-width="0.95"/><line x1="576.17" x2="576.17" y1="290.10" y2="495.95" stroke="#000" stroke-opacity="0.23" stroke-width="0.95"/><line x1="600.84" x2="600.84" y1="290.10" y2="495.95" stroke="#000" stroke-opacity="0.23" stroke-width="0.95"/><line x1="625.51" x2="625.51" y1="290.10" y2="495.95" stroke="#000" stroke-opacity="0.23" stroke-width="0.95"/><line x1="650.18" x2="650.18" y1="290.10" y2="495.95" stroke="#000" stroke-opacity="0.23" stroke-width="0.95"/><line x1="674.85" x2="674.85" y1="290.10" y2="495.95" stroke="#000" stroke-opacity="0.23" stroke-width="0.95"/><line x1="699.52" x2="699.52" y1="290.10" y2="495.95" stroke="#000" stroke-opacity="0.23" stroke-width="0.95"/><line x1="724.19" x2="724.19" y1="290.10" y2="495.95" stroke="#000" stroke-opacity="0.23" stroke-width="0.95"/><line x1="531.20" x2="738.35" y1="456.75" y2="456.75" stroke="#000" stroke-opacity="0.25" stroke-width="0.95"/><line x1="531.20" x2="738.35" y1="417.55" y2="417.55" stroke="#000" stroke-opacity="0.25" stroke-width="0.95"/><line x1="531.20" x2="738.35" y1="378.35" y2="378.35" stroke="#000" stroke-opacity="0.25" stroke-width="0.95"/><line x1="531.20" x2="738.35" y1="339.15" y2="339.15" stroke="#000" stroke-opacity="0.25" stroke-width="0.95"/><line x1="531.20" x2="738.35" y1="299.95" y2="299.95" stroke="#000" stroke-opacity="0.25" stroke-width="0.95"/>
<path d="M541.40,421.10 L555.90,383.60 L588.20,349.70 L723.90,314.90" fill="none" stroke="#1f77b4" stroke-width="1.08" stroke-linejoin="round"/>
<path d="M541.40,408.00V433.90M539.80,408.00h3.2M539.80,433.90h3.2M555.90,372.00V396.00M554.30,372.00h3.2M554.30,396.00h3.2M588.20,341.60V358.40M586.60,341.60h3.2M586.60,358.40h3.2M723.90,307.80V322.10M722.30,307.80h3.2M722.30,322.10h3.2" fill="none" stroke="#1f77b4" stroke-width="0.8"/>
<path d="M541.80,427.00 L556.30,399.50 L588.20,371.60 L711.40,325.60" fill="none" stroke="#aec7e8" stroke-width="1.08" stroke-linejoin="round"/>
<path d="M541.80,416.00V438.00M540.20,416.00h3.2M540.20,438.00h3.2M556.30,389.00V412.90M554.70,389.00h3.2M554.70,412.90h3.2M588.20,362.40V381.30M586.60,362.40h3.2M586.60,381.30h3.2M711.40,319.50V333.30M709.80,319.50h3.2M709.80,333.30h3.2" fill="none" stroke="#aec7e8" stroke-width="0.8"/>
<path d="M546.10,364.50 L576.60,348.20 L656.30,333.30" fill="none" stroke="#ff7f0e" stroke-width="1.08" stroke-linejoin="round"/>
<path d="M546.10,354.30V374.20M544.50,354.30h3.2M544.50,374.20h3.2M576.60,336.50V357.90M575.00,336.50h3.2M575.00,357.90h3.2M656.30,324.60V342.00M654.70,324.60h3.2M654.70,342.00h3.2" fill="none" stroke="#ff7f0e" stroke-width="0.8"/>
<path d="M541.40,389.00 L557.00,357.30 L585.00,349.20 L709.40,319.00" fill="none" stroke="#ffbb78" stroke-width="1.08" stroke-linejoin="round"/>
<path d="M541.40,379.20V400.00M539.80,379.20h3.2M539.80,400.00h3.2M557.00,347.70V371.60M555.40,347.70h3.2M555.40,371.60h3.2M585.00,339.80V358.00M583.40,339.80h3.2M583.40,358.00h3.2M709.40,311.40V324.60M707.80,311.40h3.2M707.80,324.60h3.2" fill="none" stroke="#ffbb78" stroke-width="0.8"/>
<path d="M541.50,383.90 L557.70,361.90 L589.90,329.60 L717.00,299.70" fill="none" stroke="#2ca02c" stroke-width="1.08" stroke-linejoin="round"/>
<path d="M541.50,375.20V394.00M539.90,375.20h3.2M539.90,394.00h3.2M557.70,353.30V372.60M556.10,353.30h3.2M556.10,372.60h3.2M589.90,320.50V338.80M588.30,320.50h3.2M588.30,338.80h3.2M717.00,293.60V305.30M715.40,293.60h3.2M715.40,305.30h3.2" fill="none" stroke="#2ca02c" stroke-width="0.8"/>
<path d="M542.10,420.40 L559.20,390.30 L594.10,355.30 L728.80,311.20" fill="none" stroke="#98df8a" stroke-width="1.08" stroke-linejoin="round"/>
<path d="M542.10,410.00V430.40M540.50,410.00h3.2M540.50,430.40h3.2M559.20,381.30V400.30M557.60,381.30h3.2M557.60,400.30h3.2M594.10,347.70V366.00M592.50,347.70h3.2M592.50,366.00h3.2M728.80,302.70V319.50M727.20,302.70h3.2M727.20,319.50h3.2" fill="none" stroke="#98df8a" stroke-width="0.8"/>
<path d="M541.70,372.60 L558.70,339.60 L593.30,323.50 L728.60,299.00" fill="none" stroke="#d62728" stroke-width="1.08" stroke-linejoin="round"/>
<path d="M541.70,362.40V382.80M540.10,362.40h3.2M540.10,382.80h3.2M558.70,331.50V348.20M557.10,331.50h3.2M557.10,348.20h3.2M593.30,315.40V330.60M591.70,315.40h3.2M591.70,330.60h3.2M728.60,294.00V305.30M727.00,294.00h3.2M727.00,305.30h3.2" fill="none" stroke="#d62728" stroke-width="0.8"/>
<path d="M541.50,426.00 L556.50,385.00 L590.00,353.30 L713.00,320.00" fill="none" stroke="#ff9896" stroke-width="1.08" stroke-linejoin="round"/>
<path d="M541.50,415.00V437.50M539.90,415.00h3.2M539.90,437.50h3.2M556.50,376.00V394.00M554.90,376.00h3.2M554.90,394.00h3.2M590.00,345.00V362.00M588.40,345.00h3.2M588.40,362.00h3.2M713.00,313.90V326.20M711.40,313.90h3.2M711.40,326.20h3.2" fill="none" stroke="#ff9896" stroke-width="0.8"/>
<path d="M541.40,430.80 L555.90,388.40 L589.00,356.30 L710.60,307.80" fill="none" stroke="#9467bd" stroke-width="1.08" stroke-linejoin="round"/>
<path d="M541.40,419.00V442.70M539.80,419.00h3.2M539.80,442.70h3.2M555.90,380.00V395.50M554.30,380.00h3.2M554.30,395.50h3.2M589.00,348.00V364.00M587.40,348.00h3.2M587.40,364.00h3.2M710.60,302.70V312.90M709.00,302.70h3.2M709.00,312.90h3.2" fill="none" stroke="#9467bd" stroke-width="0.8"/>
<path d="M571.20,371.60 L594.60,356.30 L625.50,349.50 L659.70,341.30" fill="none" stroke="#c5b0d5" stroke-width="1.08" stroke-linejoin="round"/>
<path d="M571.20,363.00V380.80M569.60,363.00h3.2M569.60,380.80h3.2M594.60,347.70V366.00M593.00,347.70h3.2M593.00,366.00h3.2M625.50,343.00V356.00M623.90,343.00h3.2M623.90,356.00h3.2M659.70,334.70V348.60M658.10,334.70h3.2M658.10,348.60h3.2" fill="none" stroke="#c5b0d5" stroke-width="0.8"/>
<path d="M541.50,424.00 L557.70,373.60 L589.00,365.00 L707.60,329.20" fill="none" stroke="#8c564b" stroke-width="1.08" stroke-linejoin="round"/>
<path d="M541.50,413.00V435.00M539.90,413.00h3.2M539.90,435.00h3.2M557.70,365.00V382.00M556.10,365.00h3.2M556.10,382.00h3.2M589.00,354.80V376.20M587.40,354.80h3.2M587.40,376.20h3.2M707.60,321.60V336.80M706.00,321.60h3.2M706.00,336.80h3.2" fill="none" stroke="#8c564b" stroke-width="0.8"/>
<path d="M541.40,392.00 L556.50,362.00 L593.30,331.20 L728.60,299.60" fill="none" stroke="#c49c94" stroke-width="1.08" stroke-linejoin="round"/>
<path d="M541.40,383.00V401.00M539.80,383.00h3.2M539.80,401.00h3.2M556.50,353.00V371.00M554.90,353.00h3.2M554.90,371.00h3.2M593.30,324.00V337.80M591.70,324.00h3.2M591.70,337.80h3.2M728.60,292.50V306.00M727.00,292.50h3.2M727.00,306.00h3.2" fill="none" stroke="#c49c94" stroke-width="0.8"/>
<path d="M541.00,418.20 L558.00,368.50 L590.30,351.20 L716.00,310.40" fill="none" stroke="#e377c2" stroke-width="1.08" stroke-linejoin="round"/>
<path d="M541.00,407.00V429.00M539.40,407.00h3.2M539.40,429.00h3.2M558.00,360.00V377.00M556.40,360.00h3.2M556.40,377.00h3.2M590.30,342.70V359.90M588.70,342.70h3.2M588.70,359.90h3.2M716.00,302.20V317.50M714.40,302.20h3.2M714.40,317.50h3.2" fill="none" stroke="#e377c2" stroke-width="0.8"/>
<path d="M527.10,290.10H531.20V495.95H527.10" fill="none" stroke="#333" stroke-width="1.0"/>
<path d="M531.20,499.25V495.95H738.35V499.25" fill="none" stroke="#333" stroke-width="1.0"/>
<path d="M527.10,495.95H531.20M527.10,476.35H531.20M527.10,456.75H531.20M527.10,437.15H531.20M527.10,417.55H531.20M527.10,397.95H531.20M527.10,378.35H531.20M527.10,358.75H531.20M527.10,339.15H531.20M527.10,319.55H531.20M527.10,299.95H531.20M551.50,495.95v3.3M576.17,495.95v3.3M600.84,495.95v3.3M625.51,495.95v3.3M650.18,495.95v3.3M674.85,495.95v3.3M699.52,495.95v3.3M724.19,495.95v3.3" fill="none" stroke="#333" stroke-width="1.0"/>
<g font-size="5" fill="#222" stroke="#222" stroke-width="0.16"><text x="525.50" y="497.75" text-anchor="end" transform="rotate(0.3 525.50 497.75)">0</text><text x="525.50" y="478.15" text-anchor="end" transform="rotate(0.3 525.50 478.15)">10</text><text x="525.50" y="458.55" text-anchor="end" transform="rotate(0.3 525.50 458.55)">20</text><text x="525.50" y="438.95" text-anchor="end" transform="rotate(0.3 525.50 438.95)">30</text><text x="525.50" y="419.35" text-anchor="end" transform="rotate(0.3 525.50 419.35)">40</text><text x="525.50" y="399.75" text-anchor="end" transform="rotate(0.3 525.50 399.75)">50</text><text x="525.50" y="380.15" text-anchor="end" transform="rotate(0.3 525.50 380.15)">60</text><text x="525.50" y="360.55" text-anchor="end" transform="rotate(0.3 525.50 360.55)">70</text><text x="525.50" y="340.95" text-anchor="end" transform="rotate(0.3 525.50 340.95)">80</text><text x="525.50" y="321.35" text-anchor="end" transform="rotate(0.3 525.50 321.35)">90</text><text x="525.50" y="301.75" text-anchor="end" transform="rotate(0.3 525.50 301.75)">100</text><text x="551.50" y="508.25" text-anchor="middle" transform="rotate(0.3 551.50 508.25)">0.1</text><text x="576.17" y="508.25" text-anchor="middle" transform="rotate(0.3 576.17 508.25)">0.2</text><text x="600.84" y="508.25" text-anchor="middle" transform="rotate(0.3 600.84 508.25)">0.3</text><text x="625.51" y="508.25" text-anchor="middle" transform="rotate(0.3 625.51 508.25)">0.4</text><text x="650.18" y="508.25" text-anchor="middle" transform="rotate(0.3 650.18 508.25)">0.5</text><text x="674.85" y="508.25" text-anchor="middle" transform="rotate(0.3 674.85 508.25)">0.6</text><text x="699.52" y="508.25" text-anchor="middle" transform="rotate(0.3 699.52 508.25)">0.7</text><text x="724.19" y="508.25" text-anchor="middle" transform="rotate(0.3 724.19 508.25)">0.8</text></g>
<text x="634.78" y="515.75" transform="rotate(0.3 634.78 515.75)" text-anchor="middle" font-size="5.6" font-weight="bold" fill="#222">Bitrates</text>
<text transform="translate(508.70,392.72) rotate(-90)" text-anchor="middle" font-size="6" font-weight="bold" fill="#222">DMOS</text>
<text x="634.08" y="284.80" text-anchor="middle" font-size="7" fill="#222" stroke="#222" stroke-width="0.3">00019</text>
<line x1="787.00" x2="787.00" y1="290.10" y2="495.95" stroke="#000" stroke-opacity="0.23" stroke-width="0.95"/><line x1="813.39" x2="813.39" y1="290.10" y2="495.95" stroke="#000" stroke-opacity="0.23" stroke-width="0.95"/><line x1="839.78" x2="839.78" y1="290.10" y2="495.95" stroke="#000" stroke-opacity="0.23" stroke-width="0.95"/><line x1="866.17" x2="866.17" y1="290.10" y2="495.95" stroke="#000" stroke-opacity="0.23" stroke-width="0.95"/><line x1="892.56" x2="892.56" y1="290.10" y2="495.95" stroke="#000" stroke-opacity="0.23" stroke-width="0.95"/><line x1="918.95" x2="918.95" y1="290.10" y2="495.95" stroke="#000" stroke-opacity="0.23" stroke-width="0.95"/><line x1="945.34" x2="945.34" y1="290.10" y2="495.95" stroke="#000" stroke-opacity="0.23" stroke-width="0.95"/><line x1="971.73" x2="971.73" y1="290.10" y2="495.95" stroke="#000" stroke-opacity="0.23" stroke-width="0.95"/><line x1="779.80" x2="986.95" y1="456.75" y2="456.75" stroke="#000" stroke-opacity="0.25" stroke-width="0.95"/><line x1="779.80" x2="986.95" y1="417.55" y2="417.55" stroke="#000" stroke-opacity="0.25" stroke-width="0.95"/><line x1="779.80" x2="986.95" y1="378.35" y2="378.35" stroke="#000" stroke-opacity="0.25" stroke-width="0.95"/><line x1="779.80" x2="986.95" y1="339.15" y2="339.15" stroke="#000" stroke-opacity="0.25" stroke-width="0.95"/><line x1="779.80" x2="986.95" y1="299.95" y2="299.95" stroke="#000" stroke-opacity="0.25" stroke-width="0.95"/>
<path d="M793.00,402.40 L823.80,383.80 L897.80,343.70 L967.80,328.50" fill="none" stroke="#1f77b4" stroke-width="1.08" stroke-linejoin="round"/>
<path d="M793.00,390.00V415.40M791.40,390.00h3.2M791.40,415.40h3.2M823.80,373.00V394.50M822.20,373.00h3.2M822.20,394.50h3.2M897.80,333.60V353.90M896.20,333.60h3.2M896.20,353.90h3.2M967.80,319.70V337.20M966.20,319.70h3.2M966.20,337.20h3.2" fill="none" stroke="#1f77b4" stroke-width="0.8"/>
<path d="M793.00,412.80 L826.10,387.00 L892.40,351.90 L957.90,330.20" fill="none" stroke="#aec7e8" stroke-width="1.08" stroke-linejoin="round"/>
<path d="M793.00,398.00V427.30M791.40,398.00h3.2M791.40,427.30h3.2M826.10,377.00V397.00M824.50,377.00h3.2M824.50,397.00h3.2M892.40,341.20V362.60M890.80,341.20h3.2M890.80,362.60h3.2M957.90,320.50V340.00M956.30,320.50h3.2M956.30,340.00h3.2" fill="none" stroke="#aec7e8" stroke-width="0.8"/>
<path d="M802.60,368.50 L830.90,359.90 L927.00,335.50 L963.70,325.10" fill="none" stroke="#ff7f0e" stroke-width="1.08" stroke-linejoin="round"/>
<path d="M802.60,357.90V380.30M801.00,357.90h3.2M801.00,380.30h3.2M830.90,350.70V371.60M829.30,350.70h3.2M829.30,371.60h3.2M927.00,326.50V344.80M925.40,326.50h3.2M925.40,344.80h3.2M963.70,315.50V334.30M962.10,315.50h3.2M962.10,334.30h3.2" fill="none" stroke="#ff7f0e" stroke-width="0.8"/>
<path d="M793.40,365.30 L826.80,357.30 L889.20,345.50 L961.00,324.60" fill="none" stroke="#ffbb78" stroke-width="1.08" stroke-linejoin="round"/>
<path d="M793.40,354.30V377.20M791.80,354.30h3.2M791.80,377.20h3.2M826.80,347.20V367.50M825.20,347.20h3.2M825.20,367.50h3.2M889.20,336.10V355.50M887.60,336.10h3.2M887.60,355.50h3.2M961.00,316.00V333.00M959.40,316.00h3.2M959.40,333.00h3.2" fill="none" stroke="#ffbb78" stroke-width="0.8"/>
<path d="M794.30,374.70 L830.10,341.50 L899.60,316.30 L969.10,300.70" fill="none" stroke="#2ca02c" stroke-width="1.08" stroke-linejoin="round"/>
<path d="M794.30,365.00V384.70M792.70,365.00h3.2M792.70,384.70h3.2M830.10,332.70V350.20M828.50,332.70h3.2M828.50,350.20h3.2M899.60,310.40V323.60M898.00,310.40h3.2M898.00,323.60h3.2M969.10,294.30V307.80M967.50,294.30h3.2M967.50,307.80h3.2" fill="none" stroke="#2ca02c" stroke-width="0.8"/>
<path d="M795.20,392.00 L832.40,358.40 L905.50,328.70 L977.60,308.30" fill="none" stroke="#98df8a" stroke-width="1.08" stroke-linejoin="round"/>
<path d="M795.20,381.50V402.50M793.60,381.50h3.2M793.60,402.50h3.2M832.40,351.20V367.50M830.80,351.20h3.2M830.80,367.50h3.2M905.50,322.00V334.30M903.90,322.00h3.2M903.90,334.30h3.2M977.60,300.00V316.00M976.00,300.00h3.2M976.00,316.00h3.2" fill="none" stroke="#98df8a" stroke-width="0.8"/>
<path d="M795.10,339.20 L832.10,342.60 L904.90,314.20 L977.60,308.30" fill="none" stroke="#d62728" stroke-width="1.08" stroke-linejoin="round"/>
<path d="M795.10,330.80V348.00M793.50,330.80h3.2M793.50,348.00h3.2M832.10,333.70V350.70M830.50,333.70h3.2M830.50,350.70h3.2M904.90,306.30V322.60M903.30,306.30h3.2M903.30,322.60h3.2M977.60,302.00V315.00M976.00,302.00h3.2M976.00,315.00h3.2" fill="none" stroke="#d62728" stroke-width="0.8"/>
<path d="M792.30,393.60 L827.90,355.30 L893.70,327.20 L957.40,319.50" fill="none" stroke="#ff9896" stroke-width="1.08" stroke-linejoin="round"/>
<path d="M792.30,384.00V403.00M790.70,384.00h3.2M790.70,403.00h3.2M827.90,347.00V364.00M826.30,347.00h3.2M826.30,364.00h3.2M893.70,320.50V335.80M892.10,320.50h3.2M892.10,335.80h3.2M957.40,312.00V327.00M955.80,312.00h3.2M955.80,327.00h3.2" fill="none" stroke="#ff9896" stroke-width="0.8"/>
<path d="M791.00,392.00 L824.80,359.90 L889.40,326.70 L956.60,314.90" fill="none" stroke="#9467bd" stroke-width="1.08" stroke-linejoin="round"/>
<path d="M791.00,384.70V404.00M789.40,384.70h3.2M789.40,404.00h3.2M824.80,352.30V369.60M823.20,352.30h3.2M823.20,369.60h3.2M889.40,321.60V332.80M887.80,321.60h3.2M887.80,332.80h3.2M956.60,309.60V321.60M955.00,309.60h3.2M955.00,321.60h3.2" fill="none" stroke="#9467bd" stroke-width="0.8"/>
<path d="M820.20,375.70 L848.20,352.30 L883.40,343.10 L929.90,329.20" fill="none" stroke="#c5b0d5" stroke-width="1.08" stroke-linejoin="round"/>
<path d="M820.20,367.50V383.80M818.60,367.50h3.2M818.60,383.80h3.2M848.20,345.10V359.90M846.60,345.10h3.2M846.60,359.90h3.2M883.40,335.50V350.70M881.80,335.50h3.2M881.80,350.70h3.2M929.90,322.60V334.80M928.30,322.60h3.2M928.30,334.80h3.2" fill="none" stroke="#c5b0d5" stroke-width="0.8"/>
<path d="M791.10,405.80 L827.90,387.60 L888.70,357.50 L959.90,335.70" fill="none" stroke="#8c564b" stroke-width="1.08" stroke-linejoin="round"/>
<path d="M791.10,394.00V417.30M789.50,394.00h3.2M789.50,417.30h3.2M827.90,377.60V397.30M826.30,377.60h3.2M826.30,397.30h3.2M888.70,348.30V366.90M887.10,348.30h3.2M887.10,366.90h3.2M959.90,327.20V343.70M958.30,327.20h3.2M958.30,343.70h3.2" fill="none" stroke="#8c564b" stroke-width="0.8"/>
<path d="M793.00,385.00 L826.30,353.30 L904.90,322.60 L977.60,308.80" fill="none" stroke="#c49c94" stroke-width="1.08" stroke-linejoin="round"/>
<path d="M793.00,376.00V394.00M791.40,376.00h3.2M791.40,394.00h3.2M826.30,346.70V361.00M824.70,346.70h3.2M824.70,361.00h3.2M904.90,315.00V330.70M903.30,315.00h3.2M903.30,330.70h3.2M977.60,302.00V316.00M976.00,302.00h3.2M976.00,316.00h3.2" fill="none" stroke="#c49c94" stroke-width="0.8"/>
<path d="M793.40,395.00 L823.80,373.60 L895.50,337.50 L965.70,323.60" fill="none" stroke="#e377c2" stroke-width="1.08" stroke-linejoin="round"/>
<path d="M793.40,385.40V406.30M791.80,385.40h3.2M791.80,406.30h3.2M823.80,364.00V383.00M822.20,364.00h3.2M822.20,383.00h3.2M895.50,330.70V343.70M893.90,330.70h3.2M893.90,343.70h3.2M965.70,315.50V331.20M964.10,315.50h3.2M964.10,331.20h3.2" fill="none" stroke="#e377c2" stroke-width="0.8"/>
<path d="M775.70,290.10H779.80V495.95H775.70" fill="none" stroke="#333" stroke-width="1.0"/>
<path d="M779.80,499.25V495.95H986.95V499.25" fill="none" stroke="#333" stroke-width="1.0"/>
<path d="M775.70,495.95H779.80M775.70,476.35H779.80M775.70,456.75H779.80M775.70,437.15H779.80M775.70,417.55H779.80M775.70,397.95H779.80M775.70,378.35H779.80M775.70,358.75H779.80M775.70,339.15H779.80M775.70,319.55H779.80M775.70,299.95H779.80M787.00,495.95v3.3M813.39,495.95v3.3M839.78,495.95v3.3M866.17,495.95v3.3M892.56,495.95v3.3M918.95,495.95v3.3M945.34,495.95v3.3M971.73,495.95v3.3" fill="none" stroke="#333" stroke-width="1.0"/>
<g font-size="5" fill="#222" stroke="#222" stroke-width="0.16"><text x="774.10" y="497.75" text-anchor="end" transform="rotate(0.3 774.10 497.75)">0</text><text x="774.10" y="478.15" text-anchor="end" transform="rotate(0.3 774.10 478.15)">10</text><text x="774.10" y="458.55" text-anchor="end" transform="rotate(0.3 774.10 458.55)">20</text><text x="774.10" y="438.95" text-anchor="end" transform="rotate(0.3 774.10 438.95)">30</text><text x="774.10" y="419.35" text-anchor="end" transform="rotate(0.3 774.10 419.35)">40</text><text x="774.10" y="399.75" text-anchor="end" transform="rotate(0.3 774.10 399.75)">50</text><text x="774.10" y="380.15" text-anchor="end" transform="rotate(0.3 774.10 380.15)">60</text><text x="774.10" y="360.55" text-anchor="end" transform="rotate(0.3 774.10 360.55)">70</text><text x="774.10" y="340.95" text-anchor="end" transform="rotate(0.3 774.10 340.95)">80</text><text x="774.10" y="321.35" text-anchor="end" transform="rotate(0.3 774.10 321.35)">90</text><text x="774.10" y="301.75" text-anchor="end" transform="rotate(0.3 774.10 301.75)">100</text><text x="787.00" y="508.25" text-anchor="middle" transform="rotate(0.3 787.00 508.25)">0.1</text><text x="813.39" y="508.25" text-anchor="middle" transform="rotate(0.3 813.39 508.25)">0.2</text><text x="839.78" y="508.25" text-anchor="middle" transform="rotate(0.3 839.78 508.25)">0.3</text><text x="866.17" y="508.25" text-anchor="middle" transform="rotate(0.3 866.17 508.25)">0.4</text><text x="892.56" y="508.25" text-anchor="middle" transform="rotate(0.3 892.56 508.25)">0.5</text><text x="918.95" y="508.25" text-anchor="middle" transform="rotate(0.3 918.95 508.25)">0.6</text><text x="945.34" y="508.25" text-anchor="middle" transform="rotate(0.3 945.34 508.25)">0.7</text><text x="971.73" y="508.25" text-anchor="middle" transform="rotate(0.3 971.73 508.25)">0.8</text></g>
<text x="883.38" y="515.75" transform="rotate(0.3 883.38 515.75)" text-anchor="middle" font-size="5.6" font-weight="bold" fill="#222">Bitrates</text>
<text transform="translate(757.30,392.72) rotate(-90)" text-anchor="middle" font-size="6" font-weight="bold" fill="#222">DMOS</text>
<text x="882.67" y="284.80" text-anchor="middle" font-size="7" fill="#222" stroke="#222" stroke-width="0.3">00020</text>
<rect x="996" y="28.25" width="10.4" height="4.9" fill="#1f77b4"/>
<text x="1008.3" y="32.40" font-size="6.15" fill="#222" stroke="#222" stroke-width="0.15">HEVC</text>
<rect x="996" y="37.43" width="10.4" height="4.9" fill="#aec7e8"/>
<text x="1008.3" y="41.58" font-size="6.15" fill="#222" stroke="#222" stroke-width="0.15">JPEG2000</text>
<rect x="996" y="46.61" width="10.4" height="4.9" fill="#ff7f0e"/>
<text x="1008.3" y="50.76" font-size="6.15" fill="#222" stroke="#222" stroke-width="0.15">TEAM12</text>
<rect x="996" y="55.79" width="10.4" height="4.9" fill="#ffbb78"/>
<text x="1008.3" y="59.94" font-size="6.15" fill="#222" stroke="#222" stroke-width="0.15">TEAM13</text>
<rect x="996" y="64.97" width="10.4" height="4.9" fill="#2ca02c"/>
<text x="1008.3" y="69.12" font-size="6.15" fill="#222" stroke="#222" stroke-width="0.15">TEAM14</text>
<rect x="996" y="74.15" width="10.4" height="4.9" fill="#98df8a"/>
<text x="1008.3" y="78.30" font-size="6.15" fill="#222" stroke="#222" stroke-width="0.15">TEAM15</text>
<rect x="996" y="83.33" width="10.4" height="4.9" fill="#d62728"/>
<text x="1008.3" y="87.48" font-size="6.15" fill="#222" stroke="#222" stroke-width="0.15">TEAM16(Bytedance)</text>
<rect x="996" y="92.51" width="10.4" height="4.9" fill="#ff9896"/>
<text x="1008.3" y="96.66" font-size="6.15" fill="#222" stroke="#222" stroke-width="0.15">TEAM17</text>
<rect x="996" y="101.69" width="10.4" height="4.9" fill="#9467bd"/>
<text x="1008.3" y="105.84" font-size="6.15" fill="#222" stroke="#222" stroke-width="0.15">TEAM19</text>
<rect x="996" y="110.87" width="10.4" height="4.9" fill="#c5b0d5"/>
<text x="1008.3" y="115.02" font-size="6.15" fill="#222" stroke="#222" stroke-width="0.15">TEAM21</text>
<rect x="996" y="120.05" width="10.4" height="4.9" fill="#8c564b"/>
<text x="1008.3" y="124.20" font-size="6.15" fill="#222" stroke="#222" stroke-width="0.15">TEAM22</text>
<rect x="996" y="129.23" width="10.4" height="4.9" fill="#c49c94"/>
<text x="1008.3" y="133.38" font-size="6.15" fill="#222" stroke="#222" stroke-width="0.15">TEAM24</text>
<rect x="996" y="138.41" width="10.4" height="4.9" fill="#e377c2"/>
<text x="1008.3" y="142.56" font-size="6.15" fill="#222" stroke="#222" stroke-width="0.15">VVC</text>
</svg></body></html>
